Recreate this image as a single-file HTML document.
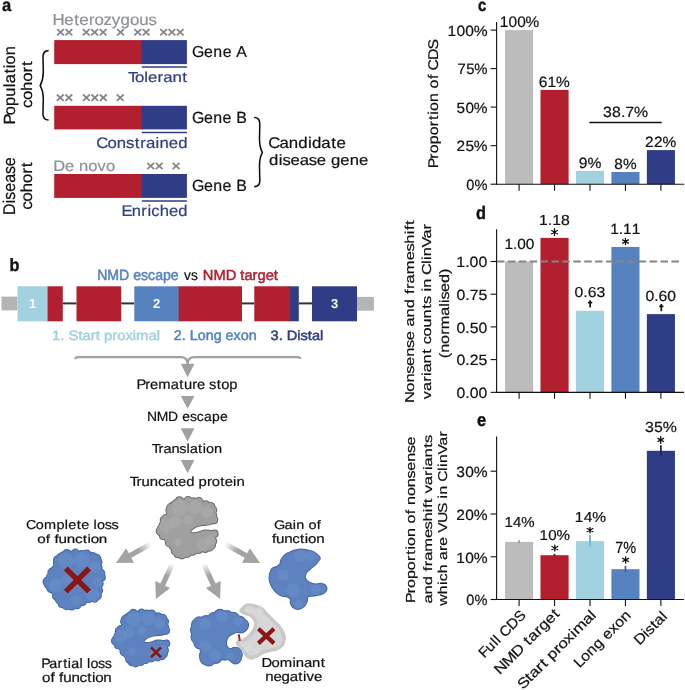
<!DOCTYPE html>
<html><head><meta charset="utf-8"><style>
html,body{margin:0;padding:0;background:#fff;}
svg{display:block;will-change:transform;}
text{font-family:"Liberation Sans",sans-serif;text-rendering:geometricPrecision;}
</style></head><body>
<svg width="685" height="690" viewBox="0 0 685 690">
<rect width="685" height="690" fill="#fff"/>
<text transform="translate(2.10,10.80) scale(0.9355,1)" x="0.00" y="0" font-size="17.66" font-weight="bold" fill="#111"  stroke="#111" stroke-width="0.4">a</text>
<text transform="translate(53.00,24.70) scale(1.0635,1)" x="-0.41 10.57 19.89 24.80 33.82 38.97 47.44 55.33 63.56 72.36 81.16 89.76" y="0" font-size="15.84" font-weight="normal" fill="#8c9196"  stroke="#8c9196" stroke-width="0.2">Heterozygous</text>
<path d="M57.10,29.10L63.90,35.40M57.10,35.40L63.90,29.10" stroke="#858585" stroke-width="1.75" fill="none"/>
<path d="M65.50,29.10L72.30,35.40M65.50,35.40L72.30,29.10" stroke="#858585" stroke-width="1.75" fill="none"/>
<path d="M82.80,29.10L89.60,35.40M82.80,35.40L89.60,29.10" stroke="#858585" stroke-width="1.75" fill="none"/>
<path d="M91.20,29.10L98.00,35.40M91.20,35.40L98.00,29.10" stroke="#858585" stroke-width="1.75" fill="none"/>
<path d="M99.70,29.10L106.50,35.40M99.70,35.40L106.50,29.10" stroke="#858585" stroke-width="1.75" fill="none"/>
<path d="M117.20,29.10L124.00,35.40M117.20,35.40L124.00,29.10" stroke="#858585" stroke-width="1.75" fill="none"/>
<path d="M134.30,29.10L141.10,35.40M134.30,35.40L141.10,29.10" stroke="#858585" stroke-width="1.75" fill="none"/>
<path d="M142.70,29.10L149.50,35.40M142.70,35.40L149.50,29.10" stroke="#858585" stroke-width="1.75" fill="none"/>
<path d="M160.20,29.10L167.00,35.40M160.20,35.40L167.00,29.10" stroke="#858585" stroke-width="1.75" fill="none"/>
<path d="M168.50,29.10L175.30,35.40M168.50,35.40L175.30,29.10" stroke="#858585" stroke-width="1.75" fill="none"/>
<path d="M176.80,29.10L183.60,35.40M176.80,35.40L183.60,29.10" stroke="#858585" stroke-width="1.75" fill="none"/>
<path d="M56.90,94.50L63.70,100.80M56.90,100.80L63.70,94.50" stroke="#858585" stroke-width="1.75" fill="none"/>
<path d="M65.40,94.50L72.20,100.80M65.40,100.80L72.20,94.50" stroke="#858585" stroke-width="1.75" fill="none"/>
<path d="M83.00,94.50L89.80,100.80M83.00,100.80L89.80,94.50" stroke="#858585" stroke-width="1.75" fill="none"/>
<path d="M91.40,94.50L98.20,100.80M91.40,100.80L98.20,94.50" stroke="#858585" stroke-width="1.75" fill="none"/>
<path d="M99.90,94.50L106.70,100.80M99.90,100.80L106.70,94.50" stroke="#858585" stroke-width="1.75" fill="none"/>
<path d="M116.80,94.50L123.60,100.80M116.80,100.80L123.60,94.50" stroke="#858585" stroke-width="1.75" fill="none"/>
<path d="M147.30,162.90L154.10,169.20M147.30,169.20L154.10,162.90" stroke="#858585" stroke-width="1.75" fill="none"/>
<path d="M155.80,162.90L162.60,169.20M155.80,169.20L162.60,162.90" stroke="#858585" stroke-width="1.75" fill="none"/>
<path d="M172.70,162.90L179.50,169.20M172.70,169.20L179.50,162.90" stroke="#858585" stroke-width="1.75" fill="none"/>
<rect x="54.20" y="40.10" width="88.40" height="24.00" fill="#b21f2f"/>
<rect x="141.60" y="40.10" width="45.30" height="24.00" fill="#2f3d86"/>
<rect x="54.20" y="105.80" width="88.40" height="23.60" fill="#b21f2f"/>
<rect x="141.60" y="105.80" width="45.30" height="23.60" fill="#2f3d86"/>
<rect x="54.20" y="174.00" width="88.40" height="23.90" fill="#b21f2f"/>
<rect x="141.60" y="174.00" width="45.30" height="23.90" fill="#2f3d86"/>
<line x1="141.80" y1="67.00" x2="186.90" y2="67.00" stroke="#2f3d86" stroke-width="1.5" />
<line x1="141.80" y1="132.40" x2="186.90" y2="132.40" stroke="#2f3d86" stroke-width="1.5" />
<line x1="141.80" y1="201.00" x2="186.90" y2="201.00" stroke="#2f3d86" stroke-width="1.5" />
<text transform="translate(128.50,81.90) scale(1.1606,1)" x="-0.50 5.52 13.61 16.87 25.03 29.92 37.86 46.41" y="0" font-size="14.48" font-weight="normal" fill="#2f3d86"  stroke="#2f3d86" stroke-width="0.2">Tolerant</text>
<text transform="translate(97.20,147.70) scale(1.1052,1)" x="-0.75 9.38 17.81 26.04 33.91 38.93 44.16 52.73 56.36 64.81 73.28" y="0" font-size="15.17" font-weight="normal" fill="#2f3d86"  stroke="#2f3d86" stroke-width="0.2">Constrained</text>
<text transform="translate(122.20,216.10) scale(1.0733,1)" x="-0.76 8.88 17.86 23.50 27.10 34.88 43.55 52.23" y="0" font-size="15.45" font-weight="normal" fill="#2f3d86"  stroke="#2f3d86" stroke-width="0.2">Enriched</text>
<text transform="translate(53.50,171.00) scale(1.0836,1)" x="-0.23 10.53 11.03 23.46 32.00 40.68 48.51" y="0" font-size="15.26" font-weight="normal" fill="#8c9196"  stroke="#8c9196" stroke-width="0.2">De novo</text>
<text transform="translate(192.30,57.40) scale(1.0011,1)" x="-0.41 11.70 21.01 30.31 30.81 43.84" y="0" font-size="15.90" font-weight="normal" fill="#111"  stroke="#111" stroke-width="0.2">Gene A</text>
<text transform="translate(192.30,122.90) scale(0.9834,1)" x="-0.42 11.91 21.37 30.84 31.34 44.62" y="0" font-size="16.19" font-weight="normal" fill="#111"  stroke="#111" stroke-width="0.2">Gene B</text>
<text transform="translate(192.30,191.30) scale(0.9834,1)" x="-0.42 11.91 21.37 30.84 31.34 44.62" y="0" font-size="16.19" font-weight="normal" fill="#111"  stroke="#111" stroke-width="0.2">Gene B</text>
<text transform="translate(269.00,148.20) scale(1.0904,1)" x="-0.77 9.54 18.14 26.87 35.74 39.45 48.03 57.11 61.90" y="0" font-size="15.45" font-weight="normal" fill="#111"  stroke="#111" stroke-width="0.2">Candidate</text>
<text transform="translate(269.00,164.80) scale(1.1189,1)" x="0.12 8.73 12.01 19.22 27.45 35.48 42.68 43.18 55.33 63.72 72.10 80.47" y="0" font-size="14.90" font-weight="normal" fill="#111"  stroke="#111" stroke-width="0.2">disease gene</text>
<text transform="translate(15.00,123.50) rotate(-90) scale(1.0246,1)" x="-1.04 8.10 17.09 26.23 35.50 39.21 48.70 53.99 57.70 66.68" y="0" font-size="16.14" font-weight="normal" fill="#111"  stroke="#111" stroke-width="0.2">Population</text>
<text transform="translate(32.00,107.80) rotate(-90) scale(1.1030,1)" x="-0.18 7.08 15.33 23.58 32.07 37.80" y="0" font-size="15.31" font-weight="normal" fill="#111"  stroke="#111" stroke-width="0.2">cohort</text>
<text transform="translate(15.40,214.90) rotate(-90) scale(0.9413,1)" x="-0.12 12.28 16.15 24.53 34.09 43.41 51.79" y="0" font-size="16.97" font-weight="normal" fill="#111"  stroke="#111" stroke-width="0.2">Disease</text>
<text transform="translate(32.30,209.60) rotate(-90) scale(1.0734,1)" x="-0.19 7.40 16.02 24.64 33.51 39.50" y="0" font-size="16.00" font-weight="normal" fill="#111"  stroke="#111" stroke-width="0.2">cohort</text>
<path d="M48.6,50.6 C45,50.6 43,52.5 43,57 L43.3,72 C43.3,79 41.5,83 40.2,85.6 C41.5,88 43.3,92 43.3,99 L43,114 C43,118.5 45,120 48.6,120" stroke="#111" stroke-width="1.55" fill="none"/>
<path d="M254.2,117.4 C257.8,117.4 259.8,119.3 259.8,123.8 L259.5,139 C259.5,146 261,150 262.4,152.4 C261,155 259.5,159 259.5,166 L259.8,181 C259.8,185.5 257.8,186.6 254.2,186.6" stroke="#111" stroke-width="1.55" fill="none"/>
<text transform="translate(9.50,270.90) scale(0.9106,1)" x="0.00" y="0" font-size="17.79" font-weight="bold" fill="#111"  stroke="#111" stroke-width="0.4">b</text>
<rect x="1.50" y="296.60" width="16.00" height="13.80" fill="#b4b4b4"/>
<rect x="357.00" y="296.90" width="16.90" height="13.80" fill="#b4b4b4"/>
<line x1="62.80" y1="303.40" x2="76.50" y2="303.40" stroke="#333" stroke-width="2" />
<line x1="121.20" y1="303.40" x2="134.30" y2="303.40" stroke="#333" stroke-width="2" />
<line x1="242.00" y1="303.40" x2="254.30" y2="303.40" stroke="#333" stroke-width="2" />
<line x1="298.80" y1="303.40" x2="312.00" y2="303.40" stroke="#333" stroke-width="2" />
<rect x="46.60" y="286.30" width="16.20" height="35.00" fill="#b21f2f"/>
<rect x="17.50" y="286.30" width="30.10" height="35.00" fill="#a2d2e0"/>
<rect x="76.50" y="286.30" width="44.70" height="35.00" fill="#b21f2f"/>
<rect x="177.70" y="286.30" width="64.30" height="35.00" fill="#b21f2f"/>
<rect x="134.30" y="286.30" width="44.40" height="35.00" fill="#5682bf"/>
<rect x="289.20" y="286.30" width="9.60" height="35.00" fill="#2f3d86"/>
<rect x="254.30" y="286.30" width="35.90" height="35.00" fill="#b21f2f"/>
<rect x="312.00" y="286.30" width="45.00" height="35.00" fill="#2f3d86"/>
<g font-weight="bold" fill="#fff" text-anchor="middle" font-size="13">
<text x="32.5" y="307.9">1</text><text x="156.5" y="307.9">2</text><text x="334.5" y="307.9">3</text>
</g>
<text x="97.20" y="279.90" font-size="14.83" font-weight="normal" fill="#5682bf" textLength="81.50" lengthAdjust="spacingAndGlyphs"  stroke-width="0.5" stroke="#5682bf">NMD escape</text>
<text transform="translate(183.80,279.90) scale(0.9624,1)" x="0.23 7.40" y="0" font-size="14.34" font-weight="normal" fill="#111"  stroke="#111" stroke-width="0.2">vs</text>
<text x="202.80" y="279.90" font-size="14.53" font-weight="normal" fill="#b21f2f" textLength="75.10" lengthAdjust="spacingAndGlyphs"  stroke-width="0.5" stroke="#b21f2f">NMD target</text>
<text x="52.00" y="339.80" font-size="13.52" font-weight="normal" fill="#a2d2e0" textLength="108.00" lengthAdjust="spacingAndGlyphs"  stroke-width="0.5" stroke="#a2d2e0">1. Start proximal</text>
<text x="173.70" y="339.80" font-size="14.04" font-weight="normal" fill="#5682bf" textLength="83.10" lengthAdjust="spacingAndGlyphs"  stroke-width="0.5" stroke="#5682bf">2. Long exon</text>
<text x="270.50" y="339.80" font-size="13.52" font-weight="normal" fill="#2f3d86" textLength="52.80" lengthAdjust="spacingAndGlyphs"  stroke-width="0.5" stroke="#2f3d86">3. Distal</text>
<path d="M75.4,359.2 Q75.4,357.2 78,357.2 L180.5,357.2 Q187.6,357.2 187.6,364" stroke="#a0a0a0" stroke-width="2.2" fill="none"/>
<path d="M300.2,359 Q300.2,357.2 297.6,357.2 L194.7,357.2 Q187.6,357.2 187.6,364" stroke="#a0a0a0" stroke-width="2.2" fill="none"/>
<path d="M180.8,363.8 L194.4,363.8 L187.6,377.2 Z" fill="#a0a0a0"/>
<path d="M180.8,396 L194.4,396 L187.6,408.8 Z" fill="#a0a0a0"/>
<path d="M180.8,428.2 L194.4,428.2 L187.6,441.5 Z" fill="#a0a0a0"/>
<path d="M180.8,459.9 L194.4,459.9 L187.6,473.2 Z" fill="#a0a0a0"/>
<text transform="translate(137.40,389.40) scale(1.0574,1)" x="-0.94 7.43 11.91 19.77 31.47 39.61 43.99 51.98 56.47 56.97 67.78 74.95 79.19 86.87" y="0" font-size="13.95" font-weight="normal" fill="#111"  stroke="#111" stroke-width="0.2">Premature stop</text>
<text transform="translate(147.20,421.10) scale(1.0410,1)" x="-0.19 9.07 19.94 20.44 33.58 41.01 47.65 54.48 62.23 69.98" y="0" font-size="13.37" font-weight="normal" fill="#111"  stroke="#111" stroke-width="0.2">NMD escape</text>
<text transform="translate(152.30,453.40) scale(1.1200,1)" x="-0.43 5.54 9.95 17.09 24.06 30.44 33.36 40.92 45.12 48.05 55.18" y="0" font-size="12.97" font-weight="normal" fill="#111"  stroke="#111" stroke-width="0.2">Translation</text>
<text transform="translate(130.20,485.50) scale(1.1253,1)" x="-0.49 5.56 10.10 17.41 24.61 30.93 38.57 42.54 49.75 50.25 60.74 68.25 72.41 80.04 84.01 91.37 94.42" y="0" font-size="13.24" font-weight="normal" fill="#111"  stroke="#111" stroke-width="0.2">Truncated protein</text>
<text transform="translate(26.70,528.60) scale(1.1284,1)" x="-0.61 7.99 15.34 26.38 33.77 36.76 44.34 48.36 48.86 59.30 62.28 69.15 75.15" y="0" font-size="12.83" font-weight="normal" fill="#111"  stroke="#111" stroke-width="0.2">Complete loss</text>
<text transform="translate(37.50,542.90) scale(1.2693,1)" x="-0.21 6.48 6.98 13.34 16.62 23.11 29.50 35.65 39.41 41.96 48.33" y="0" font-size="12.00" font-weight="normal" fill="#111"  stroke="#111" stroke-width="0.2">of function</text>
<text transform="translate(274.50,528.50) scale(1.1634,1)" x="-0.51 8.60 15.64 18.65 19.15 29.14 36.33" y="0" font-size="12.41" font-weight="normal" fill="#111"  stroke="#111" stroke-width="0.2">Gain of</text>
<text transform="translate(271.60,543.30) scale(1.1830,1)" x="0.24 3.76 10.70 17.53 24.11 28.14 30.87 37.68" y="0" font-size="12.83" font-weight="normal" fill="#111"  stroke="#111" stroke-width="0.2">function</text>
<text transform="translate(42.20,667.60) scale(1.0492,1)" x="-0.84 6.83 14.67 19.98 24.48 27.67 35.44 35.94 42.77 45.96 53.31 59.72" y="0" font-size="13.66" font-weight="normal" fill="#111"  stroke="#111" stroke-width="0.2">Partial loss</text>
<text transform="translate(42.20,681.60) scale(1.1219,1)" x="-0.23 7.30 7.80 15.02 18.73 26.03 33.23 40.16 44.40 47.27 54.45" y="0" font-size="13.52" font-weight="normal" fill="#111"  stroke="#111" stroke-width="0.2">of function</text>
<text transform="translate(261.80,667.10) scale(1.1445,1)" x="-0.33 8.56 15.73 26.78 29.77 36.81 43.86 51.46" y="0" font-size="12.97" font-weight="normal" fill="#111"  stroke="#111" stroke-width="0.2">Dominant</text>
<text transform="translate(265.40,681.20) scale(1.1114,1)" x="-0.05 7.24 14.55 21.83 29.58 33.88 37.08 43.75" y="0" font-size="13.52" font-weight="normal" fill="#111"  stroke="#111" stroke-width="0.2">negative</text>
<defs>
<linearGradient id="ag0" gradientUnits="userSpaceOnUse" x1="151.0" y1="544.0" x2="116.0" y2="563.1"><stop offset="0" stop-color="#a3a3a3" stop-opacity="0"/><stop offset="0.35" stop-color="#a3a3a3" stop-opacity="1"/><stop offset="1" stop-color="#a3a3a3"/></linearGradient>
<linearGradient id="ag1" gradientUnits="userSpaceOnUse" x1="172.6" y1="563.5" x2="155.9" y2="599.0"><stop offset="0" stop-color="#a3a3a3" stop-opacity="0"/><stop offset="0.35" stop-color="#a3a3a3" stop-opacity="1"/><stop offset="1" stop-color="#a3a3a3"/></linearGradient>
<linearGradient id="ag2" gradientUnits="userSpaceOnUse" x1="203.4" y1="563.5" x2="220.1" y2="599.0"><stop offset="0" stop-color="#a3a3a3" stop-opacity="0"/><stop offset="0.35" stop-color="#a3a3a3" stop-opacity="1"/><stop offset="1" stop-color="#a3a3a3"/></linearGradient>
<linearGradient id="ag3" gradientUnits="userSpaceOnUse" x1="225.0" y1="544.0" x2="260.0" y2="563.1"><stop offset="0" stop-color="#a3a3a3" stop-opacity="0"/><stop offset="0.35" stop-color="#a3a3a3" stop-opacity="1"/><stop offset="1" stop-color="#a3a3a3"/></linearGradient>
<clipPath id="cg"><path d="M174.60,500.40 C175.78,499.53 177.63,497.58 179.00,497.40 C180.37,497.22 181.33,499.35 182.80,499.30 C184.27,499.25 185.97,497.28 187.80,497.10 C189.63,496.92 191.80,498.02 193.80,498.20 C195.80,498.38 197.62,497.65 199.80,498.20 C201.98,498.75 204.70,500.58 206.90,501.50 C209.10,502.42 211.45,502.42 213.00,503.70 C214.55,504.98 215.67,507.28 216.20,509.20 C216.73,511.12 216.02,513.47 216.20,515.20 C216.38,516.93 217.38,518.33 217.30,519.60 C217.22,520.87 216.70,522.08 215.70,522.80 C214.70,523.52 213.48,523.53 211.30,523.90 C209.12,524.27 205.15,524.53 202.60,525.00 C200.05,525.47 197.92,525.87 196.00,526.70 C194.08,527.53 192.02,529.00 191.10,530.00 C190.18,531.00 190.05,532.17 190.50,532.70 C190.95,533.23 192.33,533.28 193.80,533.20 C195.27,533.12 197.48,532.65 199.30,532.20 C201.12,531.75 202.70,530.68 204.70,530.50 C206.70,530.32 209.28,530.92 211.30,531.10 C213.32,531.28 216.07,530.78 216.80,531.60 C217.53,532.42 215.80,534.35 215.70,536.00 C215.60,537.65 216.38,539.68 216.20,541.50 C216.02,543.32 215.42,545.45 214.60,546.90 C213.78,548.35 212.77,549.37 211.30,550.20 C209.83,551.03 207.80,551.43 205.80,551.90 C203.80,552.37 201.30,552.55 199.30,553.00 C197.30,553.45 195.63,553.97 193.80,554.60 C191.97,555.23 190.30,556.17 188.30,556.80 C186.30,557.43 183.80,558.40 181.80,558.40 C179.80,558.40 177.87,557.70 176.30,556.80 C174.73,555.90 173.40,554.47 172.40,553.00 C171.40,551.53 171.30,549.38 170.30,548.00 C169.30,546.62 167.23,545.97 166.40,544.70 C165.57,543.43 166.20,541.48 165.30,540.40 C164.40,539.32 162.18,539.30 161.00,538.20 C159.82,537.10 158.93,534.98 158.20,533.80 C157.47,532.62 156.60,532.20 156.60,531.10 C156.60,530.00 157.65,528.40 158.20,527.20 C158.75,526.00 159.43,525.27 159.90,523.90 C160.37,522.53 160.37,520.37 161.00,519.00 C161.63,517.63 162.70,516.43 163.70,515.70 C164.70,514.97 166.55,515.60 167.00,514.60 C167.45,513.60 166.22,511.25 166.40,509.70 C166.58,508.15 167.18,506.48 168.10,505.30 C169.02,504.12 170.82,503.42 171.90,502.60 C172.98,501.78 173.42,501.27 174.60,500.40Z"/></clipPath>
<clipPath id="cc"><path d="M61.50,552.70 C62.87,551.87 64.95,550.08 66.50,549.90 C68.05,549.72 69.35,551.65 70.80,551.60 C72.25,551.55 73.37,549.70 75.20,549.60 C77.03,549.50 79.78,550.85 81.80,551.00 C83.82,551.15 85.30,550.13 87.30,550.50 C89.30,550.87 91.80,552.28 93.80,553.20 C95.80,554.12 98.02,554.63 99.30,556.00 C100.58,557.37 101.13,559.58 101.50,561.40 C101.87,563.22 101.05,565.07 101.50,566.90 C101.95,568.73 103.65,570.58 104.20,572.40 C104.75,574.22 105.07,575.80 104.80,577.80 C104.53,579.80 103.05,582.20 102.60,584.40 C102.15,586.60 102.47,588.80 102.10,591.00 C101.73,593.20 101.42,595.87 100.40,597.60 C99.38,599.33 97.82,600.68 96.00,601.40 C94.18,602.12 91.50,601.35 89.50,601.90 C87.50,602.45 85.83,603.68 84.00,604.70 C82.17,605.72 80.52,607.18 78.50,608.00 C76.48,608.82 74.08,609.42 71.90,609.60 C69.72,609.78 67.40,609.65 65.40,609.10 C63.40,608.55 61.37,607.50 59.90,606.30 C58.43,605.10 57.70,603.35 56.60,601.90 C55.50,600.45 54.03,599.05 53.30,597.60 C52.57,596.15 53.02,594.30 52.20,593.20 C51.38,592.10 49.48,592.10 48.40,591.00 C47.32,589.90 46.52,588.07 45.70,586.60 C44.88,585.13 43.60,583.48 43.50,582.20 C43.40,580.92 44.47,579.98 45.10,578.90 C45.73,577.82 46.65,577.15 47.30,575.70 C47.95,574.25 48.08,571.58 49.00,570.20 C49.92,568.82 51.98,568.68 52.80,567.40 C53.62,566.12 53.63,564.05 53.90,562.50 C54.17,560.95 53.67,559.37 54.40,558.10 C55.13,556.83 57.12,555.80 58.30,554.90 C59.48,554.00 60.13,553.53 61.50,552.70Z"/></clipPath>
<clipPath id="cn"><path d="M294.20,550.80 C296.30,550.23 299.15,549.32 301.90,549.40 C304.65,549.48 308.27,550.50 310.70,551.30 C313.13,552.10 314.97,553.07 316.50,554.20 C318.03,555.33 319.65,556.97 319.90,558.10 C320.15,559.23 318.73,559.95 318.00,561.00 C317.27,562.05 316.72,563.18 315.50,564.40 C314.28,565.62 312.15,567.08 310.70,568.30 C309.25,569.52 307.78,570.40 306.80,571.70 C305.82,573.00 304.97,574.80 304.80,576.10 C304.63,577.40 305.15,578.45 305.80,579.50 C306.45,580.55 307.08,581.58 308.70,582.40 C310.32,583.22 313.23,584.15 315.50,584.40 C317.77,584.65 320.52,583.50 322.30,583.90 C324.08,584.30 325.63,585.58 326.20,586.80 C326.77,588.02 326.50,589.98 325.70,591.20 C324.90,592.42 323.42,593.38 321.40,594.10 C319.38,594.82 315.87,595.10 313.60,595.50 C311.33,595.90 308.93,595.52 307.80,596.50 C306.67,597.48 307.45,599.78 306.80,601.40 C306.15,603.02 305.37,604.92 303.90,606.20 C302.43,607.48 299.78,608.93 298.00,609.10 C296.22,609.27 294.40,608.17 293.20,607.20 C292.00,606.23 291.20,604.60 290.80,603.30 C290.40,602.00 291.37,600.53 290.80,599.40 C290.23,598.27 288.95,597.15 287.40,596.50 C285.85,595.85 283.28,596.15 281.50,595.50 C279.72,594.85 278.15,593.88 276.70,592.60 C275.25,591.32 273.93,589.73 272.80,587.80 C271.67,585.87 270.38,583.27 269.90,581.00 C269.42,578.73 269.50,576.23 269.90,574.20 C270.30,572.17 271.17,570.02 272.30,568.80 C273.43,567.58 275.40,567.63 276.70,566.90 C278.00,566.17 279.30,565.62 280.10,564.40 C280.90,563.18 280.62,561.22 281.50,559.60 C282.38,557.98 284.10,555.83 285.40,554.70 C286.70,553.57 287.83,553.45 289.30,552.80 C290.77,552.15 292.10,551.37 294.20,550.80Z"/></clipPath>
<clipPath id="cd"><path d="M192.50,622.30 C193.48,620.32 194.92,618.88 196.90,617.90 C198.88,616.92 201.92,617.15 204.40,616.40 C206.88,615.65 209.32,614.52 211.80,613.40 C214.28,612.28 216.57,610.07 219.30,609.70 C222.03,609.33 225.48,610.58 228.20,611.20 C230.92,611.82 233.12,612.28 235.60,613.40 C238.08,614.52 241.23,616.17 243.10,617.90 C244.97,619.63 246.18,621.95 246.80,623.80 C247.42,625.65 247.67,627.88 246.80,629.00 C245.93,630.12 243.70,629.87 241.60,630.50 C239.50,631.13 236.43,631.80 234.20,632.80 C231.97,633.80 229.57,635.02 228.20,636.50 C226.83,637.98 226.12,639.85 226.00,641.70 C225.88,643.55 226.13,645.98 227.50,647.60 C228.87,649.22 232.10,650.15 234.20,651.40 C236.30,652.65 239.23,653.73 240.10,655.10 C240.97,656.47 240.63,658.62 239.40,659.60 C238.17,660.58 235.07,661.00 232.70,661.00 C230.33,661.00 227.68,659.35 225.20,659.60 C222.72,659.85 220.53,661.52 217.80,662.50 C215.07,663.48 211.42,665.50 208.80,665.50 C206.18,665.50 203.58,663.98 202.10,662.50 C200.62,661.02 200.13,658.58 199.90,656.60 C199.67,654.62 201.45,652.33 200.70,650.60 C199.95,648.87 196.90,648.18 195.40,646.20 C193.90,644.22 192.43,641.43 191.70,638.70 C190.97,635.97 190.87,632.53 191.00,629.80 C191.13,627.07 191.52,624.28 192.50,622.30Z"/></clipPath>
<clipPath id="ce"><path d="M240.60,609.40 C241.62,608.07 244.68,604.90 247.20,604.20 C249.72,603.50 253.18,604.57 255.70,605.20 C258.22,605.83 260.57,606.83 262.30,608.00 C264.03,609.17 264.68,610.70 266.10,612.20 C267.52,613.70 269.23,615.42 270.80,617.00 C272.37,618.58 273.93,620.13 275.50,621.70 C277.07,623.27 278.78,624.52 280.20,626.40 C281.62,628.28 283.22,630.82 284.00,633.00 C284.78,635.18 285.13,637.32 284.90,639.50 C284.67,641.68 284.02,644.37 282.60,646.10 C281.18,647.83 278.53,649.03 276.40,649.90 C274.27,650.77 272.00,650.75 269.80,651.30 C267.60,651.85 265.23,652.33 263.20,653.20 C261.17,654.07 259.47,655.55 257.60,656.50 C255.73,657.45 253.73,658.75 252.00,658.90 C250.27,659.05 248.55,658.43 247.20,657.40 C245.85,656.37 245.15,654.42 243.90,652.70 C242.65,650.98 240.87,648.50 239.70,647.10 C238.53,645.70 237.28,645.25 236.90,644.30 C236.52,643.35 236.78,642.03 237.40,641.40 C238.02,640.77 239.43,640.97 240.60,640.50 C241.77,640.03 243.13,639.38 244.40,638.60 C245.67,637.82 246.78,637.22 248.20,635.80 C249.62,634.38 251.80,631.98 252.90,630.10 C254.00,628.22 254.65,626.22 254.80,624.50 C254.95,622.78 254.58,621.22 253.80,619.80 C253.02,618.38 251.67,616.95 250.10,616.00 C248.53,615.05 245.90,614.73 244.40,614.10 C242.90,613.47 241.73,612.98 241.10,612.20 C240.47,611.42 239.58,610.73 240.60,609.40Z"/></clipPath>
</defs>
<path d="M149.75,541.72 L128.80,553.15 L126.12,548.24 L116.00,563.10 L133.97,562.63 L131.29,557.72 L152.25,546.28Z" fill="url(#ag0)"/>
<path d="M170.25,562.39 L160.36,583.42 L155.29,581.03 L155.90,599.00 L170.13,588.01 L165.06,585.63 L174.95,564.61Z" fill="url(#ag1)"/>
<path d="M201.05,564.61 L210.94,585.63 L205.87,588.01 L220.10,599.00 L220.71,581.03 L215.64,583.42 L205.75,562.39Z" fill="url(#ag2)"/>
<path d="M223.75,546.28 L244.71,557.72 L242.03,562.63 L260.00,563.10 L249.88,548.24 L247.20,553.15 L226.25,541.72Z" fill="url(#ag3)"/>
<clipPath id="pg"><path d="M176.85,503.47 C177.79,502.70 178.39,500.38 179.40,500.41 C180.42,500.45 181.49,503.65 182.95,503.67 C184.40,503.68 186.39,500.75 188.14,500.50 C189.89,500.25 191.65,501.94 193.44,502.17 C195.22,502.40 196.82,501.53 198.87,501.88 C200.92,502.24 203.84,503.44 205.73,504.31 C207.62,505.17 209.02,506.10 210.21,507.07 C211.41,508.03 212.57,508.69 212.91,510.12 C213.24,511.54 212.13,514.08 212.23,515.62 C212.33,517.16 213.23,518.57 213.51,519.35 C213.79,520.14 214.30,519.57 213.93,520.33 C213.56,521.09 213.19,523.12 211.30,523.90 C209.41,524.68 205.15,524.53 202.60,525.00 C200.05,525.47 197.92,525.87 196.00,526.70 C194.08,527.53 192.02,529.00 191.10,530.00 C190.18,531.00 190.05,532.17 190.50,532.70 C190.95,533.23 192.33,533.28 193.80,533.20 C195.27,533.12 197.48,532.65 199.30,532.20 C201.12,531.75 202.70,530.68 204.70,530.50 C206.70,530.32 209.66,530.58 211.30,531.10 C212.94,531.62 214.53,532.86 214.54,533.63 C214.54,534.40 211.63,534.48 211.34,535.74 C211.05,536.99 212.83,539.62 212.80,541.16 C212.76,542.69 211.69,543.99 211.12,544.94 C210.56,545.90 210.43,546.23 209.42,546.90 C208.42,547.56 206.96,548.63 205.11,548.94 C203.26,549.25 200.41,548.33 198.34,548.74 C196.27,549.14 194.56,550.66 192.68,551.37 C190.81,552.08 188.91,552.46 187.10,553.00 C185.28,553.53 183.35,554.41 181.80,554.60 C180.25,554.79 178.78,554.84 177.81,554.16 C176.85,553.49 176.80,551.90 176.01,550.54 C175.22,549.18 174.12,547.33 173.07,546.00 C172.03,544.66 170.54,543.84 169.73,542.51 C168.93,541.17 169.33,539.06 168.22,537.97 C167.11,536.88 164.12,537.05 163.07,535.97 C162.02,534.89 162.42,532.31 161.91,531.50 C161.41,530.69 160.03,531.54 160.02,531.10 C160.01,530.66 161.25,529.86 161.83,528.86 C162.41,527.87 163.17,526.56 163.50,525.13 C163.82,523.70 163.29,521.26 163.76,520.28 C164.22,519.29 165.22,519.94 166.28,519.22 C167.34,518.51 169.44,517.51 170.12,516.00 C170.80,514.49 170.20,511.56 170.36,510.17 C170.53,508.77 170.54,508.48 171.10,507.63 C171.67,506.77 172.77,505.72 173.73,505.03 C174.69,504.33 175.90,504.23 176.85,503.47Z"/><circle cx="176.85" cy="503.47" r="3.80"/><circle cx="179.40" cy="500.41" r="3.04"/><circle cx="182.95" cy="503.67" r="4.37"/><circle cx="188.14" cy="500.50" r="3.42"/><circle cx="193.44" cy="502.17" r="3.99"/><circle cx="198.87" cy="501.88" r="3.80"/><circle cx="205.73" cy="504.31" r="3.04"/><circle cx="210.21" cy="507.07" r="4.37"/><circle cx="212.91" cy="510.12" r="3.42"/><circle cx="212.23" cy="515.62" r="3.99"/><circle cx="213.51" cy="519.35" r="3.80"/><circle cx="213.93" cy="520.33" r="3.04"/><circle cx="214.54" cy="533.63" r="3.04"/><circle cx="211.34" cy="535.74" r="4.37"/><circle cx="212.80" cy="541.16" r="3.42"/><circle cx="211.12" cy="544.94" r="3.99"/><circle cx="209.42" cy="546.90" r="3.80"/><circle cx="205.11" cy="548.94" r="3.04"/><circle cx="198.34" cy="548.74" r="4.37"/><circle cx="192.68" cy="551.37" r="3.42"/><circle cx="187.10" cy="553.00" r="3.99"/><circle cx="181.80" cy="554.60" r="3.80"/><circle cx="177.81" cy="554.16" r="3.04"/><circle cx="176.01" cy="550.54" r="4.37"/><circle cx="173.07" cy="546.00" r="3.42"/><circle cx="169.73" cy="542.51" r="3.99"/><circle cx="168.22" cy="537.97" r="3.80"/><circle cx="163.07" cy="535.97" r="3.04"/><circle cx="161.91" cy="531.50" r="4.37"/><circle cx="160.02" cy="531.10" r="3.42"/><circle cx="161.83" cy="528.86" r="3.99"/><circle cx="163.50" cy="525.13" r="3.80"/><circle cx="163.76" cy="520.28" r="3.04"/><circle cx="166.28" cy="519.22" r="4.37"/><circle cx="170.12" cy="516.00" r="3.42"/><circle cx="170.36" cy="510.17" r="3.99"/><circle cx="171.10" cy="507.63" r="3.80"/><circle cx="173.73" cy="505.03" r="3.04"/></clipPath>
<g fill="#6a6a6a" stroke="#6a6a6a" stroke-width="2.00"><path d="M176.85,503.47 C177.79,502.70 178.39,500.38 179.40,500.41 C180.42,500.45 181.49,503.65 182.95,503.67 C184.40,503.68 186.39,500.75 188.14,500.50 C189.89,500.25 191.65,501.94 193.44,502.17 C195.22,502.40 196.82,501.53 198.87,501.88 C200.92,502.24 203.84,503.44 205.73,504.31 C207.62,505.17 209.02,506.10 210.21,507.07 C211.41,508.03 212.57,508.69 212.91,510.12 C213.24,511.54 212.13,514.08 212.23,515.62 C212.33,517.16 213.23,518.57 213.51,519.35 C213.79,520.14 214.30,519.57 213.93,520.33 C213.56,521.09 213.19,523.12 211.30,523.90 C209.41,524.68 205.15,524.53 202.60,525.00 C200.05,525.47 197.92,525.87 196.00,526.70 C194.08,527.53 192.02,529.00 191.10,530.00 C190.18,531.00 190.05,532.17 190.50,532.70 C190.95,533.23 192.33,533.28 193.80,533.20 C195.27,533.12 197.48,532.65 199.30,532.20 C201.12,531.75 202.70,530.68 204.70,530.50 C206.70,530.32 209.66,530.58 211.30,531.10 C212.94,531.62 214.53,532.86 214.54,533.63 C214.54,534.40 211.63,534.48 211.34,535.74 C211.05,536.99 212.83,539.62 212.80,541.16 C212.76,542.69 211.69,543.99 211.12,544.94 C210.56,545.90 210.43,546.23 209.42,546.90 C208.42,547.56 206.96,548.63 205.11,548.94 C203.26,549.25 200.41,548.33 198.34,548.74 C196.27,549.14 194.56,550.66 192.68,551.37 C190.81,552.08 188.91,552.46 187.10,553.00 C185.28,553.53 183.35,554.41 181.80,554.60 C180.25,554.79 178.78,554.84 177.81,554.16 C176.85,553.49 176.80,551.90 176.01,550.54 C175.22,549.18 174.12,547.33 173.07,546.00 C172.03,544.66 170.54,543.84 169.73,542.51 C168.93,541.17 169.33,539.06 168.22,537.97 C167.11,536.88 164.12,537.05 163.07,535.97 C162.02,534.89 162.42,532.31 161.91,531.50 C161.41,530.69 160.03,531.54 160.02,531.10 C160.01,530.66 161.25,529.86 161.83,528.86 C162.41,527.87 163.17,526.56 163.50,525.13 C163.82,523.70 163.29,521.26 163.76,520.28 C164.22,519.29 165.22,519.94 166.28,519.22 C167.34,518.51 169.44,517.51 170.12,516.00 C170.80,514.49 170.20,511.56 170.36,510.17 C170.53,508.77 170.54,508.48 171.10,507.63 C171.67,506.77 172.77,505.72 173.73,505.03 C174.69,504.33 175.90,504.23 176.85,503.47Z"/><circle cx="176.85" cy="503.47" r="3.80"/><circle cx="179.40" cy="500.41" r="3.04"/><circle cx="182.95" cy="503.67" r="4.37"/><circle cx="188.14" cy="500.50" r="3.42"/><circle cx="193.44" cy="502.17" r="3.99"/><circle cx="198.87" cy="501.88" r="3.80"/><circle cx="205.73" cy="504.31" r="3.04"/><circle cx="210.21" cy="507.07" r="4.37"/><circle cx="212.91" cy="510.12" r="3.42"/><circle cx="212.23" cy="515.62" r="3.99"/><circle cx="213.51" cy="519.35" r="3.80"/><circle cx="213.93" cy="520.33" r="3.04"/><circle cx="214.54" cy="533.63" r="3.04"/><circle cx="211.34" cy="535.74" r="4.37"/><circle cx="212.80" cy="541.16" r="3.42"/><circle cx="211.12" cy="544.94" r="3.99"/><circle cx="209.42" cy="546.90" r="3.80"/><circle cx="205.11" cy="548.94" r="3.04"/><circle cx="198.34" cy="548.74" r="4.37"/><circle cx="192.68" cy="551.37" r="3.42"/><circle cx="187.10" cy="553.00" r="3.99"/><circle cx="181.80" cy="554.60" r="3.80"/><circle cx="177.81" cy="554.16" r="3.04"/><circle cx="176.01" cy="550.54" r="4.37"/><circle cx="173.07" cy="546.00" r="3.42"/><circle cx="169.73" cy="542.51" r="3.99"/><circle cx="168.22" cy="537.97" r="3.80"/><circle cx="163.07" cy="535.97" r="3.04"/><circle cx="161.91" cy="531.50" r="4.37"/><circle cx="160.02" cy="531.10" r="3.42"/><circle cx="161.83" cy="528.86" r="3.99"/><circle cx="163.50" cy="525.13" r="3.80"/><circle cx="163.76" cy="520.28" r="3.04"/><circle cx="166.28" cy="519.22" r="4.37"/><circle cx="170.12" cy="516.00" r="3.42"/><circle cx="170.36" cy="510.17" r="3.99"/><circle cx="171.10" cy="507.63" r="3.80"/><circle cx="173.73" cy="505.03" r="3.04"/></g>
<g fill="#a0a0a0"><path d="M176.85,503.47 C177.79,502.70 178.39,500.38 179.40,500.41 C180.42,500.45 181.49,503.65 182.95,503.67 C184.40,503.68 186.39,500.75 188.14,500.50 C189.89,500.25 191.65,501.94 193.44,502.17 C195.22,502.40 196.82,501.53 198.87,501.88 C200.92,502.24 203.84,503.44 205.73,504.31 C207.62,505.17 209.02,506.10 210.21,507.07 C211.41,508.03 212.57,508.69 212.91,510.12 C213.24,511.54 212.13,514.08 212.23,515.62 C212.33,517.16 213.23,518.57 213.51,519.35 C213.79,520.14 214.30,519.57 213.93,520.33 C213.56,521.09 213.19,523.12 211.30,523.90 C209.41,524.68 205.15,524.53 202.60,525.00 C200.05,525.47 197.92,525.87 196.00,526.70 C194.08,527.53 192.02,529.00 191.10,530.00 C190.18,531.00 190.05,532.17 190.50,532.70 C190.95,533.23 192.33,533.28 193.80,533.20 C195.27,533.12 197.48,532.65 199.30,532.20 C201.12,531.75 202.70,530.68 204.70,530.50 C206.70,530.32 209.66,530.58 211.30,531.10 C212.94,531.62 214.53,532.86 214.54,533.63 C214.54,534.40 211.63,534.48 211.34,535.74 C211.05,536.99 212.83,539.62 212.80,541.16 C212.76,542.69 211.69,543.99 211.12,544.94 C210.56,545.90 210.43,546.23 209.42,546.90 C208.42,547.56 206.96,548.63 205.11,548.94 C203.26,549.25 200.41,548.33 198.34,548.74 C196.27,549.14 194.56,550.66 192.68,551.37 C190.81,552.08 188.91,552.46 187.10,553.00 C185.28,553.53 183.35,554.41 181.80,554.60 C180.25,554.79 178.78,554.84 177.81,554.16 C176.85,553.49 176.80,551.90 176.01,550.54 C175.22,549.18 174.12,547.33 173.07,546.00 C172.03,544.66 170.54,543.84 169.73,542.51 C168.93,541.17 169.33,539.06 168.22,537.97 C167.11,536.88 164.12,537.05 163.07,535.97 C162.02,534.89 162.42,532.31 161.91,531.50 C161.41,530.69 160.03,531.54 160.02,531.10 C160.01,530.66 161.25,529.86 161.83,528.86 C162.41,527.87 163.17,526.56 163.50,525.13 C163.82,523.70 163.29,521.26 163.76,520.28 C164.22,519.29 165.22,519.94 166.28,519.22 C167.34,518.51 169.44,517.51 170.12,516.00 C170.80,514.49 170.20,511.56 170.36,510.17 C170.53,508.77 170.54,508.48 171.10,507.63 C171.67,506.77 172.77,505.72 173.73,505.03 C174.69,504.33 175.90,504.23 176.85,503.47Z"/><circle cx="176.85" cy="503.47" r="3.80"/><circle cx="179.40" cy="500.41" r="3.04"/><circle cx="182.95" cy="503.67" r="4.37"/><circle cx="188.14" cy="500.50" r="3.42"/><circle cx="193.44" cy="502.17" r="3.99"/><circle cx="198.87" cy="501.88" r="3.80"/><circle cx="205.73" cy="504.31" r="3.04"/><circle cx="210.21" cy="507.07" r="4.37"/><circle cx="212.91" cy="510.12" r="3.42"/><circle cx="212.23" cy="515.62" r="3.99"/><circle cx="213.51" cy="519.35" r="3.80"/><circle cx="213.93" cy="520.33" r="3.04"/><circle cx="214.54" cy="533.63" r="3.04"/><circle cx="211.34" cy="535.74" r="4.37"/><circle cx="212.80" cy="541.16" r="3.42"/><circle cx="211.12" cy="544.94" r="3.99"/><circle cx="209.42" cy="546.90" r="3.80"/><circle cx="205.11" cy="548.94" r="3.04"/><circle cx="198.34" cy="548.74" r="4.37"/><circle cx="192.68" cy="551.37" r="3.42"/><circle cx="187.10" cy="553.00" r="3.99"/><circle cx="181.80" cy="554.60" r="3.80"/><circle cx="177.81" cy="554.16" r="3.04"/><circle cx="176.01" cy="550.54" r="4.37"/><circle cx="173.07" cy="546.00" r="3.42"/><circle cx="169.73" cy="542.51" r="3.99"/><circle cx="168.22" cy="537.97" r="3.80"/><circle cx="163.07" cy="535.97" r="3.04"/><circle cx="161.91" cy="531.50" r="4.37"/><circle cx="160.02" cy="531.10" r="3.42"/><circle cx="161.83" cy="528.86" r="3.99"/><circle cx="163.50" cy="525.13" r="3.80"/><circle cx="163.76" cy="520.28" r="3.04"/><circle cx="166.28" cy="519.22" r="4.37"/><circle cx="170.12" cy="516.00" r="3.42"/><circle cx="170.36" cy="510.17" r="3.99"/><circle cx="171.10" cy="507.63" r="3.80"/><circle cx="173.73" cy="505.03" r="3.04"/></g>
<g clip-path="url(#pg)">
<circle cx="180" cy="508" r="8" fill="#adadad" opacity="0.5"/>
<circle cx="195" cy="507" r="7" fill="#adadad" opacity="0.5"/>
<circle cx="207" cy="512" r="6" fill="#adadad" opacity="0.5"/>
<circle cx="166" cy="526" r="7" fill="#adadad" opacity="0.5"/>
<circle cx="175" cy="522" r="6" fill="#adadad" opacity="0.5"/>
<circle cx="188" cy="520" r="5" fill="#adadad" opacity="0.5"/>
<circle cx="203" cy="545" r="6" fill="#adadad" opacity="0.5"/>
<circle cx="210" cy="540" r="5" fill="#adadad" opacity="0.5"/>
<circle cx="178" cy="542" r="4" fill="#adadad" opacity="0.5"/>
</g>
<clipPath id="pc"><path d="M63.48,555.94 C64.50,555.08 65.61,552.92 66.86,552.92 C68.10,552.92 69.53,555.95 70.95,555.97 C72.37,555.98 73.63,553.18 75.39,553.01 C77.15,552.85 79.63,554.78 81.50,554.98 C83.38,555.18 84.78,554.07 86.61,554.24 C88.45,554.40 90.95,555.17 92.53,555.96 C94.12,556.76 95.18,557.97 96.11,558.99 C97.05,560.01 97.90,560.60 98.15,562.08 C98.40,563.55 97.22,565.95 97.63,567.85 C98.03,569.76 99.87,571.91 100.56,573.50 C101.26,575.09 102.16,575.73 101.79,577.40 C101.41,579.07 98.83,581.35 98.32,583.52 C97.81,585.70 98.95,588.43 98.73,590.44 C98.50,592.45 97.65,594.34 96.96,595.58 C96.27,596.82 95.98,597.30 94.61,597.87 C93.23,598.43 90.81,598.47 88.69,598.97 C86.57,599.47 83.79,599.90 81.88,600.88 C79.97,601.86 78.94,604.04 77.22,604.83 C75.50,605.62 73.37,605.52 71.57,605.62 C69.76,605.72 68.03,605.72 66.41,605.44 C64.78,605.16 62.88,604.98 61.83,603.95 C60.77,602.92 60.99,600.57 60.08,599.26 C59.17,597.94 57.13,597.46 56.35,596.06 C55.57,594.65 56.28,592.11 55.40,590.82 C54.53,589.53 52.28,589.28 51.11,588.33 C49.93,587.38 48.90,586.20 48.36,585.12 C47.81,584.04 47.91,582.61 47.86,581.86 C47.81,581.11 47.54,581.38 48.05,580.63 C48.57,579.87 50.26,578.72 50.94,577.33 C51.63,575.94 51.43,573.68 52.17,572.30 C52.90,570.92 54.36,570.54 55.36,569.03 C56.37,567.52 57.87,564.78 58.21,563.24 C58.54,561.70 56.94,560.67 57.36,559.81 C57.78,558.95 59.70,558.72 60.72,558.08 C61.74,557.43 62.45,556.80 63.48,555.94Z"/><circle cx="63.48" cy="555.94" r="3.80"/><circle cx="66.86" cy="552.92" r="3.04"/><circle cx="70.95" cy="555.97" r="4.37"/><circle cx="75.39" cy="553.01" r="3.42"/><circle cx="81.50" cy="554.98" r="3.99"/><circle cx="86.61" cy="554.24" r="3.80"/><circle cx="92.53" cy="555.96" r="3.04"/><circle cx="96.11" cy="558.99" r="4.37"/><circle cx="98.15" cy="562.08" r="3.42"/><circle cx="97.63" cy="567.85" r="3.99"/><circle cx="100.56" cy="573.50" r="3.80"/><circle cx="101.79" cy="577.40" r="3.04"/><circle cx="98.32" cy="583.52" r="4.37"/><circle cx="98.73" cy="590.44" r="3.42"/><circle cx="96.96" cy="595.58" r="3.99"/><circle cx="94.61" cy="597.87" r="3.80"/><circle cx="88.69" cy="598.97" r="3.04"/><circle cx="81.88" cy="600.88" r="4.37"/><circle cx="77.22" cy="604.83" r="3.42"/><circle cx="71.57" cy="605.62" r="3.99"/><circle cx="66.41" cy="605.44" r="3.80"/><circle cx="61.83" cy="603.95" r="3.04"/><circle cx="60.08" cy="599.26" r="4.37"/><circle cx="56.35" cy="596.06" r="3.42"/><circle cx="55.40" cy="590.82" r="3.99"/><circle cx="51.11" cy="588.33" r="3.80"/><circle cx="48.36" cy="585.12" r="3.04"/><circle cx="47.86" cy="581.86" r="4.37"/><circle cx="48.05" cy="580.63" r="3.42"/><circle cx="50.94" cy="577.33" r="3.99"/><circle cx="52.17" cy="572.30" r="3.80"/><circle cx="55.36" cy="569.03" r="3.04"/><circle cx="58.21" cy="563.24" r="4.37"/><circle cx="57.36" cy="559.81" r="3.42"/><circle cx="60.72" cy="558.08" r="3.99"/></clipPath>
<g fill="#4467a8" stroke="#4467a8" stroke-width="2.00"><path d="M63.48,555.94 C64.50,555.08 65.61,552.92 66.86,552.92 C68.10,552.92 69.53,555.95 70.95,555.97 C72.37,555.98 73.63,553.18 75.39,553.01 C77.15,552.85 79.63,554.78 81.50,554.98 C83.38,555.18 84.78,554.07 86.61,554.24 C88.45,554.40 90.95,555.17 92.53,555.96 C94.12,556.76 95.18,557.97 96.11,558.99 C97.05,560.01 97.90,560.60 98.15,562.08 C98.40,563.55 97.22,565.95 97.63,567.85 C98.03,569.76 99.87,571.91 100.56,573.50 C101.26,575.09 102.16,575.73 101.79,577.40 C101.41,579.07 98.83,581.35 98.32,583.52 C97.81,585.70 98.95,588.43 98.73,590.44 C98.50,592.45 97.65,594.34 96.96,595.58 C96.27,596.82 95.98,597.30 94.61,597.87 C93.23,598.43 90.81,598.47 88.69,598.97 C86.57,599.47 83.79,599.90 81.88,600.88 C79.97,601.86 78.94,604.04 77.22,604.83 C75.50,605.62 73.37,605.52 71.57,605.62 C69.76,605.72 68.03,605.72 66.41,605.44 C64.78,605.16 62.88,604.98 61.83,603.95 C60.77,602.92 60.99,600.57 60.08,599.26 C59.17,597.94 57.13,597.46 56.35,596.06 C55.57,594.65 56.28,592.11 55.40,590.82 C54.53,589.53 52.28,589.28 51.11,588.33 C49.93,587.38 48.90,586.20 48.36,585.12 C47.81,584.04 47.91,582.61 47.86,581.86 C47.81,581.11 47.54,581.38 48.05,580.63 C48.57,579.87 50.26,578.72 50.94,577.33 C51.63,575.94 51.43,573.68 52.17,572.30 C52.90,570.92 54.36,570.54 55.36,569.03 C56.37,567.52 57.87,564.78 58.21,563.24 C58.54,561.70 56.94,560.67 57.36,559.81 C57.78,558.95 59.70,558.72 60.72,558.08 C61.74,557.43 62.45,556.80 63.48,555.94Z"/><circle cx="63.48" cy="555.94" r="3.80"/><circle cx="66.86" cy="552.92" r="3.04"/><circle cx="70.95" cy="555.97" r="4.37"/><circle cx="75.39" cy="553.01" r="3.42"/><circle cx="81.50" cy="554.98" r="3.99"/><circle cx="86.61" cy="554.24" r="3.80"/><circle cx="92.53" cy="555.96" r="3.04"/><circle cx="96.11" cy="558.99" r="4.37"/><circle cx="98.15" cy="562.08" r="3.42"/><circle cx="97.63" cy="567.85" r="3.99"/><circle cx="100.56" cy="573.50" r="3.80"/><circle cx="101.79" cy="577.40" r="3.04"/><circle cx="98.32" cy="583.52" r="4.37"/><circle cx="98.73" cy="590.44" r="3.42"/><circle cx="96.96" cy="595.58" r="3.99"/><circle cx="94.61" cy="597.87" r="3.80"/><circle cx="88.69" cy="598.97" r="3.04"/><circle cx="81.88" cy="600.88" r="4.37"/><circle cx="77.22" cy="604.83" r="3.42"/><circle cx="71.57" cy="605.62" r="3.99"/><circle cx="66.41" cy="605.44" r="3.80"/><circle cx="61.83" cy="603.95" r="3.04"/><circle cx="60.08" cy="599.26" r="4.37"/><circle cx="56.35" cy="596.06" r="3.42"/><circle cx="55.40" cy="590.82" r="3.99"/><circle cx="51.11" cy="588.33" r="3.80"/><circle cx="48.36" cy="585.12" r="3.04"/><circle cx="47.86" cy="581.86" r="4.37"/><circle cx="48.05" cy="580.63" r="3.42"/><circle cx="50.94" cy="577.33" r="3.99"/><circle cx="52.17" cy="572.30" r="3.80"/><circle cx="55.36" cy="569.03" r="3.04"/><circle cx="58.21" cy="563.24" r="4.37"/><circle cx="57.36" cy="559.81" r="3.42"/><circle cx="60.72" cy="558.08" r="3.99"/></g>
<g fill="#5d82bf"><path d="M63.48,555.94 C64.50,555.08 65.61,552.92 66.86,552.92 C68.10,552.92 69.53,555.95 70.95,555.97 C72.37,555.98 73.63,553.18 75.39,553.01 C77.15,552.85 79.63,554.78 81.50,554.98 C83.38,555.18 84.78,554.07 86.61,554.24 C88.45,554.40 90.95,555.17 92.53,555.96 C94.12,556.76 95.18,557.97 96.11,558.99 C97.05,560.01 97.90,560.60 98.15,562.08 C98.40,563.55 97.22,565.95 97.63,567.85 C98.03,569.76 99.87,571.91 100.56,573.50 C101.26,575.09 102.16,575.73 101.79,577.40 C101.41,579.07 98.83,581.35 98.32,583.52 C97.81,585.70 98.95,588.43 98.73,590.44 C98.50,592.45 97.65,594.34 96.96,595.58 C96.27,596.82 95.98,597.30 94.61,597.87 C93.23,598.43 90.81,598.47 88.69,598.97 C86.57,599.47 83.79,599.90 81.88,600.88 C79.97,601.86 78.94,604.04 77.22,604.83 C75.50,605.62 73.37,605.52 71.57,605.62 C69.76,605.72 68.03,605.72 66.41,605.44 C64.78,605.16 62.88,604.98 61.83,603.95 C60.77,602.92 60.99,600.57 60.08,599.26 C59.17,597.94 57.13,597.46 56.35,596.06 C55.57,594.65 56.28,592.11 55.40,590.82 C54.53,589.53 52.28,589.28 51.11,588.33 C49.93,587.38 48.90,586.20 48.36,585.12 C47.81,584.04 47.91,582.61 47.86,581.86 C47.81,581.11 47.54,581.38 48.05,580.63 C48.57,579.87 50.26,578.72 50.94,577.33 C51.63,575.94 51.43,573.68 52.17,572.30 C52.90,570.92 54.36,570.54 55.36,569.03 C56.37,567.52 57.87,564.78 58.21,563.24 C58.54,561.70 56.94,560.67 57.36,559.81 C57.78,558.95 59.70,558.72 60.72,558.08 C61.74,557.43 62.45,556.80 63.48,555.94Z"/><circle cx="63.48" cy="555.94" r="3.80"/><circle cx="66.86" cy="552.92" r="3.04"/><circle cx="70.95" cy="555.97" r="4.37"/><circle cx="75.39" cy="553.01" r="3.42"/><circle cx="81.50" cy="554.98" r="3.99"/><circle cx="86.61" cy="554.24" r="3.80"/><circle cx="92.53" cy="555.96" r="3.04"/><circle cx="96.11" cy="558.99" r="4.37"/><circle cx="98.15" cy="562.08" r="3.42"/><circle cx="97.63" cy="567.85" r="3.99"/><circle cx="100.56" cy="573.50" r="3.80"/><circle cx="101.79" cy="577.40" r="3.04"/><circle cx="98.32" cy="583.52" r="4.37"/><circle cx="98.73" cy="590.44" r="3.42"/><circle cx="96.96" cy="595.58" r="3.99"/><circle cx="94.61" cy="597.87" r="3.80"/><circle cx="88.69" cy="598.97" r="3.04"/><circle cx="81.88" cy="600.88" r="4.37"/><circle cx="77.22" cy="604.83" r="3.42"/><circle cx="71.57" cy="605.62" r="3.99"/><circle cx="66.41" cy="605.44" r="3.80"/><circle cx="61.83" cy="603.95" r="3.04"/><circle cx="60.08" cy="599.26" r="4.37"/><circle cx="56.35" cy="596.06" r="3.42"/><circle cx="55.40" cy="590.82" r="3.99"/><circle cx="51.11" cy="588.33" r="3.80"/><circle cx="48.36" cy="585.12" r="3.04"/><circle cx="47.86" cy="581.86" r="4.37"/><circle cx="48.05" cy="580.63" r="3.42"/><circle cx="50.94" cy="577.33" r="3.99"/><circle cx="52.17" cy="572.30" r="3.80"/><circle cx="55.36" cy="569.03" r="3.04"/><circle cx="58.21" cy="563.24" r="4.37"/><circle cx="57.36" cy="559.81" r="3.42"/><circle cx="60.72" cy="558.08" r="3.99"/></g>
<g clip-path="url(#pc)">
<circle cx="66" cy="561" r="8" fill="#6c92cb" opacity="0.5"/>
<circle cx="82" cy="560" r="8" fill="#6c92cb" opacity="0.5"/>
<circle cx="95" cy="567" r="6" fill="#6c92cb" opacity="0.5"/>
<circle cx="56" cy="585" r="7" fill="#6c92cb" opacity="0.5"/>
<circle cx="68" cy="580" r="6" fill="#6c92cb" opacity="0.5"/>
<circle cx="92" cy="595" r="7" fill="#6c92cb" opacity="0.5"/>
<circle cx="98" cy="582" r="5" fill="#6c92cb" opacity="0.5"/>
<circle cx="76" cy="600" r="5" fill="#6c92cb" opacity="0.5"/>
</g>
<clipPath id="pn"><path d="M294.20,550.80 C296.30,550.23 299.15,549.32 301.90,549.40 C304.65,549.48 308.27,550.50 310.70,551.30 C313.13,552.10 314.97,553.07 316.50,554.20 C318.03,555.33 319.65,556.97 319.90,558.10 C320.15,559.23 318.73,559.95 318.00,561.00 C317.27,562.05 316.72,563.18 315.50,564.40 C314.28,565.62 312.15,567.08 310.70,568.30 C309.25,569.52 307.78,570.40 306.80,571.70 C305.82,573.00 304.97,574.80 304.80,576.10 C304.63,577.40 305.15,578.45 305.80,579.50 C306.45,580.55 307.08,581.58 308.70,582.40 C310.32,583.22 313.23,584.15 315.50,584.40 C317.77,584.65 320.52,583.50 322.30,583.90 C324.08,584.30 325.63,585.58 326.20,586.80 C326.77,588.02 326.50,589.98 325.70,591.20 C324.90,592.42 323.42,593.38 321.40,594.10 C319.38,594.82 315.87,595.10 313.60,595.50 C311.33,595.90 308.93,595.52 307.80,596.50 C306.67,597.48 307.45,599.78 306.80,601.40 C306.15,603.02 305.37,604.92 303.90,606.20 C302.43,607.48 299.78,608.93 298.00,609.10 C296.22,609.27 294.40,608.17 293.20,607.20 C292.00,606.23 291.20,604.60 290.80,603.30 C290.40,602.00 291.37,600.53 290.80,599.40 C290.23,598.27 288.95,597.15 287.40,596.50 C285.85,595.85 283.28,596.15 281.50,595.50 C279.72,594.85 278.15,593.88 276.70,592.60 C275.25,591.32 273.93,589.73 272.80,587.80 C271.67,585.87 270.38,583.27 269.90,581.00 C269.42,578.73 269.50,576.23 269.90,574.20 C270.30,572.17 271.17,570.02 272.30,568.80 C273.43,567.58 275.40,567.63 276.70,566.90 C278.00,566.17 279.30,565.62 280.10,564.40 C280.90,563.18 280.62,561.22 281.50,559.60 C282.38,557.98 284.10,555.83 285.40,554.70 C286.70,553.57 287.83,553.45 289.30,552.80 C290.77,552.15 292.10,551.37 294.20,550.80Z"/></clipPath>
<g fill="#4467a8" stroke="#4467a8" stroke-width="2.00"><path d="M294.20,550.80 C296.30,550.23 299.15,549.32 301.90,549.40 C304.65,549.48 308.27,550.50 310.70,551.30 C313.13,552.10 314.97,553.07 316.50,554.20 C318.03,555.33 319.65,556.97 319.90,558.10 C320.15,559.23 318.73,559.95 318.00,561.00 C317.27,562.05 316.72,563.18 315.50,564.40 C314.28,565.62 312.15,567.08 310.70,568.30 C309.25,569.52 307.78,570.40 306.80,571.70 C305.82,573.00 304.97,574.80 304.80,576.10 C304.63,577.40 305.15,578.45 305.80,579.50 C306.45,580.55 307.08,581.58 308.70,582.40 C310.32,583.22 313.23,584.15 315.50,584.40 C317.77,584.65 320.52,583.50 322.30,583.90 C324.08,584.30 325.63,585.58 326.20,586.80 C326.77,588.02 326.50,589.98 325.70,591.20 C324.90,592.42 323.42,593.38 321.40,594.10 C319.38,594.82 315.87,595.10 313.60,595.50 C311.33,595.90 308.93,595.52 307.80,596.50 C306.67,597.48 307.45,599.78 306.80,601.40 C306.15,603.02 305.37,604.92 303.90,606.20 C302.43,607.48 299.78,608.93 298.00,609.10 C296.22,609.27 294.40,608.17 293.20,607.20 C292.00,606.23 291.20,604.60 290.80,603.30 C290.40,602.00 291.37,600.53 290.80,599.40 C290.23,598.27 288.95,597.15 287.40,596.50 C285.85,595.85 283.28,596.15 281.50,595.50 C279.72,594.85 278.15,593.88 276.70,592.60 C275.25,591.32 273.93,589.73 272.80,587.80 C271.67,585.87 270.38,583.27 269.90,581.00 C269.42,578.73 269.50,576.23 269.90,574.20 C270.30,572.17 271.17,570.02 272.30,568.80 C273.43,567.58 275.40,567.63 276.70,566.90 C278.00,566.17 279.30,565.62 280.10,564.40 C280.90,563.18 280.62,561.22 281.50,559.60 C282.38,557.98 284.10,555.83 285.40,554.70 C286.70,553.57 287.83,553.45 289.30,552.80 C290.77,552.15 292.10,551.37 294.20,550.80Z"/></g>
<g fill="#5d82bf"><path d="M294.20,550.80 C296.30,550.23 299.15,549.32 301.90,549.40 C304.65,549.48 308.27,550.50 310.70,551.30 C313.13,552.10 314.97,553.07 316.50,554.20 C318.03,555.33 319.65,556.97 319.90,558.10 C320.15,559.23 318.73,559.95 318.00,561.00 C317.27,562.05 316.72,563.18 315.50,564.40 C314.28,565.62 312.15,567.08 310.70,568.30 C309.25,569.52 307.78,570.40 306.80,571.70 C305.82,573.00 304.97,574.80 304.80,576.10 C304.63,577.40 305.15,578.45 305.80,579.50 C306.45,580.55 307.08,581.58 308.70,582.40 C310.32,583.22 313.23,584.15 315.50,584.40 C317.77,584.65 320.52,583.50 322.30,583.90 C324.08,584.30 325.63,585.58 326.20,586.80 C326.77,588.02 326.50,589.98 325.70,591.20 C324.90,592.42 323.42,593.38 321.40,594.10 C319.38,594.82 315.87,595.10 313.60,595.50 C311.33,595.90 308.93,595.52 307.80,596.50 C306.67,597.48 307.45,599.78 306.80,601.40 C306.15,603.02 305.37,604.92 303.90,606.20 C302.43,607.48 299.78,608.93 298.00,609.10 C296.22,609.27 294.40,608.17 293.20,607.20 C292.00,606.23 291.20,604.60 290.80,603.30 C290.40,602.00 291.37,600.53 290.80,599.40 C290.23,598.27 288.95,597.15 287.40,596.50 C285.85,595.85 283.28,596.15 281.50,595.50 C279.72,594.85 278.15,593.88 276.70,592.60 C275.25,591.32 273.93,589.73 272.80,587.80 C271.67,585.87 270.38,583.27 269.90,581.00 C269.42,578.73 269.50,576.23 269.90,574.20 C270.30,572.17 271.17,570.02 272.30,568.80 C273.43,567.58 275.40,567.63 276.70,566.90 C278.00,566.17 279.30,565.62 280.10,564.40 C280.90,563.18 280.62,561.22 281.50,559.60 C282.38,557.98 284.10,555.83 285.40,554.70 C286.70,553.57 287.83,553.45 289.30,552.80 C290.77,552.15 292.10,551.37 294.20,550.80Z"/></g>
<g clip-path="url(#pn)">
<circle cx="300" cy="556" r="6" fill="#6c92cb" opacity="0.5"/>
<circle cx="310" cy="556" r="5" fill="#6c92cb" opacity="0.5"/>
<circle cx="283" cy="575" r="6" fill="#6c92cb" opacity="0.5"/>
<circle cx="293" cy="590" r="7" fill="#6c92cb" opacity="0.5"/>
<circle cx="316" cy="590" r="5" fill="#6c92cb" opacity="0.5"/>
<circle cx="299" cy="604" r="4" fill="#6c92cb" opacity="0.5"/>
</g>
<clipPath id="pd"><path d="M197.88,624.97 C198.26,623.74 197.89,623.11 199.30,622.74 C200.70,622.36 203.81,623.36 206.31,622.72 C208.80,622.07 211.98,620.15 214.26,618.87 C216.55,617.59 217.94,615.26 220.02,615.05 C222.10,614.85 224.55,617.00 226.74,617.64 C228.93,618.27 231.02,618.17 233.14,618.87 C235.25,619.58 238.19,620.69 239.43,621.86 C240.66,623.03 240.10,625.31 240.54,625.89 C240.98,626.46 241.88,624.55 242.06,625.32 C242.24,626.09 242.91,629.25 241.60,630.50 C240.29,631.75 236.43,631.80 234.20,632.80 C231.97,633.80 229.57,635.02 228.20,636.50 C226.83,637.98 226.12,639.85 226.00,641.70 C225.88,643.55 226.13,645.98 227.50,647.60 C228.87,649.22 232.86,649.67 234.20,651.40 C235.54,653.13 235.36,657.49 235.54,657.99 C235.72,658.50 235.76,654.94 235.29,654.44 C234.81,653.94 234.47,655.04 232.70,655.00 C230.93,654.96 227.51,654.01 224.66,654.23 C221.80,654.44 218.21,655.41 215.57,656.29 C212.92,657.17 210.41,659.10 208.80,659.50 C207.19,659.90 206.31,659.29 205.92,658.68 C205.53,658.07 206.41,657.57 206.45,655.83 C206.50,654.08 207.33,650.37 206.21,648.22 C205.08,646.07 201.06,644.81 199.71,642.94 C198.35,641.07 198.53,639.13 198.07,636.99 C197.62,634.85 197.03,632.10 196.99,630.09 C196.96,628.09 197.49,626.19 197.88,624.97Z"/><circle cx="197.88" cy="624.97" r="6.00"/><circle cx="199.30" cy="622.74" r="5.40"/><circle cx="206.31" cy="622.72" r="6.60"/><circle cx="214.26" cy="618.87" r="6.00"/><circle cx="220.02" cy="615.05" r="5.40"/><circle cx="226.74" cy="617.64" r="6.60"/><circle cx="233.14" cy="618.87" r="6.00"/><circle cx="239.43" cy="621.86" r="5.40"/><circle cx="240.54" cy="625.89" r="6.60"/><circle cx="242.06" cy="625.32" r="6.00"/><circle cx="235.54" cy="657.99" r="5.40"/><circle cx="235.29" cy="654.44" r="6.60"/><circle cx="232.70" cy="655.00" r="6.00"/><circle cx="224.66" cy="654.23" r="5.40"/><circle cx="215.57" cy="656.29" r="6.60"/><circle cx="208.80" cy="659.50" r="6.00"/><circle cx="205.92" cy="658.68" r="5.40"/><circle cx="206.45" cy="655.83" r="6.60"/><circle cx="206.21" cy="648.22" r="6.00"/><circle cx="199.71" cy="642.94" r="5.40"/><circle cx="198.07" cy="636.99" r="6.60"/><circle cx="196.99" cy="630.09" r="6.00"/></clipPath>
<g fill="#4467a8" stroke="#4467a8" stroke-width="2.00"><path d="M197.88,624.97 C198.26,623.74 197.89,623.11 199.30,622.74 C200.70,622.36 203.81,623.36 206.31,622.72 C208.80,622.07 211.98,620.15 214.26,618.87 C216.55,617.59 217.94,615.26 220.02,615.05 C222.10,614.85 224.55,617.00 226.74,617.64 C228.93,618.27 231.02,618.17 233.14,618.87 C235.25,619.58 238.19,620.69 239.43,621.86 C240.66,623.03 240.10,625.31 240.54,625.89 C240.98,626.46 241.88,624.55 242.06,625.32 C242.24,626.09 242.91,629.25 241.60,630.50 C240.29,631.75 236.43,631.80 234.20,632.80 C231.97,633.80 229.57,635.02 228.20,636.50 C226.83,637.98 226.12,639.85 226.00,641.70 C225.88,643.55 226.13,645.98 227.50,647.60 C228.87,649.22 232.86,649.67 234.20,651.40 C235.54,653.13 235.36,657.49 235.54,657.99 C235.72,658.50 235.76,654.94 235.29,654.44 C234.81,653.94 234.47,655.04 232.70,655.00 C230.93,654.96 227.51,654.01 224.66,654.23 C221.80,654.44 218.21,655.41 215.57,656.29 C212.92,657.17 210.41,659.10 208.80,659.50 C207.19,659.90 206.31,659.29 205.92,658.68 C205.53,658.07 206.41,657.57 206.45,655.83 C206.50,654.08 207.33,650.37 206.21,648.22 C205.08,646.07 201.06,644.81 199.71,642.94 C198.35,641.07 198.53,639.13 198.07,636.99 C197.62,634.85 197.03,632.10 196.99,630.09 C196.96,628.09 197.49,626.19 197.88,624.97Z"/><circle cx="197.88" cy="624.97" r="6.00"/><circle cx="199.30" cy="622.74" r="5.40"/><circle cx="206.31" cy="622.72" r="6.60"/><circle cx="214.26" cy="618.87" r="6.00"/><circle cx="220.02" cy="615.05" r="5.40"/><circle cx="226.74" cy="617.64" r="6.60"/><circle cx="233.14" cy="618.87" r="6.00"/><circle cx="239.43" cy="621.86" r="5.40"/><circle cx="240.54" cy="625.89" r="6.60"/><circle cx="242.06" cy="625.32" r="6.00"/><circle cx="235.54" cy="657.99" r="5.40"/><circle cx="235.29" cy="654.44" r="6.60"/><circle cx="232.70" cy="655.00" r="6.00"/><circle cx="224.66" cy="654.23" r="5.40"/><circle cx="215.57" cy="656.29" r="6.60"/><circle cx="208.80" cy="659.50" r="6.00"/><circle cx="205.92" cy="658.68" r="5.40"/><circle cx="206.45" cy="655.83" r="6.60"/><circle cx="206.21" cy="648.22" r="6.00"/><circle cx="199.71" cy="642.94" r="5.40"/><circle cx="198.07" cy="636.99" r="6.60"/><circle cx="196.99" cy="630.09" r="6.00"/></g>
<g fill="#5d82bf"><path d="M197.88,624.97 C198.26,623.74 197.89,623.11 199.30,622.74 C200.70,622.36 203.81,623.36 206.31,622.72 C208.80,622.07 211.98,620.15 214.26,618.87 C216.55,617.59 217.94,615.26 220.02,615.05 C222.10,614.85 224.55,617.00 226.74,617.64 C228.93,618.27 231.02,618.17 233.14,618.87 C235.25,619.58 238.19,620.69 239.43,621.86 C240.66,623.03 240.10,625.31 240.54,625.89 C240.98,626.46 241.88,624.55 242.06,625.32 C242.24,626.09 242.91,629.25 241.60,630.50 C240.29,631.75 236.43,631.80 234.20,632.80 C231.97,633.80 229.57,635.02 228.20,636.50 C226.83,637.98 226.12,639.85 226.00,641.70 C225.88,643.55 226.13,645.98 227.50,647.60 C228.87,649.22 232.86,649.67 234.20,651.40 C235.54,653.13 235.36,657.49 235.54,657.99 C235.72,658.50 235.76,654.94 235.29,654.44 C234.81,653.94 234.47,655.04 232.70,655.00 C230.93,654.96 227.51,654.01 224.66,654.23 C221.80,654.44 218.21,655.41 215.57,656.29 C212.92,657.17 210.41,659.10 208.80,659.50 C207.19,659.90 206.31,659.29 205.92,658.68 C205.53,658.07 206.41,657.57 206.45,655.83 C206.50,654.08 207.33,650.37 206.21,648.22 C205.08,646.07 201.06,644.81 199.71,642.94 C198.35,641.07 198.53,639.13 198.07,636.99 C197.62,634.85 197.03,632.10 196.99,630.09 C196.96,628.09 197.49,626.19 197.88,624.97Z"/><circle cx="197.88" cy="624.97" r="6.00"/><circle cx="199.30" cy="622.74" r="5.40"/><circle cx="206.31" cy="622.72" r="6.60"/><circle cx="214.26" cy="618.87" r="6.00"/><circle cx="220.02" cy="615.05" r="5.40"/><circle cx="226.74" cy="617.64" r="6.60"/><circle cx="233.14" cy="618.87" r="6.00"/><circle cx="239.43" cy="621.86" r="5.40"/><circle cx="240.54" cy="625.89" r="6.60"/><circle cx="242.06" cy="625.32" r="6.00"/><circle cx="235.54" cy="657.99" r="5.40"/><circle cx="235.29" cy="654.44" r="6.60"/><circle cx="232.70" cy="655.00" r="6.00"/><circle cx="224.66" cy="654.23" r="5.40"/><circle cx="215.57" cy="656.29" r="6.60"/><circle cx="208.80" cy="659.50" r="6.00"/><circle cx="205.92" cy="658.68" r="5.40"/><circle cx="206.45" cy="655.83" r="6.60"/><circle cx="206.21" cy="648.22" r="6.00"/><circle cx="199.71" cy="642.94" r="5.40"/><circle cx="198.07" cy="636.99" r="6.60"/><circle cx="196.99" cy="630.09" r="6.00"/></g>
<g clip-path="url(#pd)">
<circle cx="205" cy="624" r="6" fill="#6c92cb" opacity="0.5"/>
<circle cx="222" cy="617" r="6" fill="#6c92cb" opacity="0.5"/>
<circle cx="238" cy="621" r="5" fill="#6c92cb" opacity="0.5"/>
<circle cx="205" cy="646" r="6" fill="#6c92cb" opacity="0.5"/>
<circle cx="215" cy="655" r="6" fill="#6c92cb" opacity="0.5"/>
<circle cx="230" cy="656" r="4" fill="#6c92cb" opacity="0.5"/>
</g>
<clipPath id="pe"><path d="M240.60,609.40 C241.62,608.07 244.68,604.90 247.20,604.20 C249.72,603.50 253.18,604.57 255.70,605.20 C258.22,605.83 260.57,606.83 262.30,608.00 C264.03,609.17 264.68,610.70 266.10,612.20 C267.52,613.70 269.23,615.42 270.80,617.00 C272.37,618.58 273.93,620.13 275.50,621.70 C277.07,623.27 278.78,624.52 280.20,626.40 C281.62,628.28 283.22,630.82 284.00,633.00 C284.78,635.18 285.13,637.32 284.90,639.50 C284.67,641.68 284.02,644.37 282.60,646.10 C281.18,647.83 278.53,649.03 276.40,649.90 C274.27,650.77 272.00,650.75 269.80,651.30 C267.60,651.85 265.23,652.33 263.20,653.20 C261.17,654.07 259.47,655.55 257.60,656.50 C255.73,657.45 253.73,658.75 252.00,658.90 C250.27,659.05 248.55,658.43 247.20,657.40 C245.85,656.37 245.15,654.42 243.90,652.70 C242.65,650.98 240.87,648.50 239.70,647.10 C238.53,645.70 237.28,645.25 236.90,644.30 C236.52,643.35 236.78,642.03 237.40,641.40 C238.02,640.77 239.43,640.97 240.60,640.50 C241.77,640.03 243.13,639.38 244.40,638.60 C245.67,637.82 246.78,637.22 248.20,635.80 C249.62,634.38 251.80,631.98 252.90,630.10 C254.00,628.22 254.65,626.22 254.80,624.50 C254.95,622.78 254.58,621.22 253.80,619.80 C253.02,618.38 251.67,616.95 250.10,616.00 C248.53,615.05 245.90,614.73 244.40,614.10 C242.90,613.47 241.73,612.98 241.10,612.20 C240.47,611.42 239.58,610.73 240.60,609.40Z"/></clipPath>
<g fill="#c6c6c6" stroke="#c6c6c6" stroke-width="1.60"><path d="M240.60,609.40 C241.62,608.07 244.68,604.90 247.20,604.20 C249.72,603.50 253.18,604.57 255.70,605.20 C258.22,605.83 260.57,606.83 262.30,608.00 C264.03,609.17 264.68,610.70 266.10,612.20 C267.52,613.70 269.23,615.42 270.80,617.00 C272.37,618.58 273.93,620.13 275.50,621.70 C277.07,623.27 278.78,624.52 280.20,626.40 C281.62,628.28 283.22,630.82 284.00,633.00 C284.78,635.18 285.13,637.32 284.90,639.50 C284.67,641.68 284.02,644.37 282.60,646.10 C281.18,647.83 278.53,649.03 276.40,649.90 C274.27,650.77 272.00,650.75 269.80,651.30 C267.60,651.85 265.23,652.33 263.20,653.20 C261.17,654.07 259.47,655.55 257.60,656.50 C255.73,657.45 253.73,658.75 252.00,658.90 C250.27,659.05 248.55,658.43 247.20,657.40 C245.85,656.37 245.15,654.42 243.90,652.70 C242.65,650.98 240.87,648.50 239.70,647.10 C238.53,645.70 237.28,645.25 236.90,644.30 C236.52,643.35 236.78,642.03 237.40,641.40 C238.02,640.77 239.43,640.97 240.60,640.50 C241.77,640.03 243.13,639.38 244.40,638.60 C245.67,637.82 246.78,637.22 248.20,635.80 C249.62,634.38 251.80,631.98 252.90,630.10 C254.00,628.22 254.65,626.22 254.80,624.50 C254.95,622.78 254.58,621.22 253.80,619.80 C253.02,618.38 251.67,616.95 250.10,616.00 C248.53,615.05 245.90,614.73 244.40,614.10 C242.90,613.47 241.73,612.98 241.10,612.20 C240.47,611.42 239.58,610.73 240.60,609.40Z"/></g>
<g fill="#d6d6d6"><path d="M240.60,609.40 C241.62,608.07 244.68,604.90 247.20,604.20 C249.72,603.50 253.18,604.57 255.70,605.20 C258.22,605.83 260.57,606.83 262.30,608.00 C264.03,609.17 264.68,610.70 266.10,612.20 C267.52,613.70 269.23,615.42 270.80,617.00 C272.37,618.58 273.93,620.13 275.50,621.70 C277.07,623.27 278.78,624.52 280.20,626.40 C281.62,628.28 283.22,630.82 284.00,633.00 C284.78,635.18 285.13,637.32 284.90,639.50 C284.67,641.68 284.02,644.37 282.60,646.10 C281.18,647.83 278.53,649.03 276.40,649.90 C274.27,650.77 272.00,650.75 269.80,651.30 C267.60,651.85 265.23,652.33 263.20,653.20 C261.17,654.07 259.47,655.55 257.60,656.50 C255.73,657.45 253.73,658.75 252.00,658.90 C250.27,659.05 248.55,658.43 247.20,657.40 C245.85,656.37 245.15,654.42 243.90,652.70 C242.65,650.98 240.87,648.50 239.70,647.10 C238.53,645.70 237.28,645.25 236.90,644.30 C236.52,643.35 236.78,642.03 237.40,641.40 C238.02,640.77 239.43,640.97 240.60,640.50 C241.77,640.03 243.13,639.38 244.40,638.60 C245.67,637.82 246.78,637.22 248.20,635.80 C249.62,634.38 251.80,631.98 252.90,630.10 C254.00,628.22 254.65,626.22 254.80,624.50 C254.95,622.78 254.58,621.22 253.80,619.80 C253.02,618.38 251.67,616.95 250.10,616.00 C248.53,615.05 245.90,614.73 244.40,614.10 C242.90,613.47 241.73,612.98 241.10,612.20 C240.47,611.42 239.58,610.73 240.60,609.40Z"/></g>
<g clip-path="url(#pe)">
<path d="M240.60,609.40 C241.62,608.07 244.68,604.90 247.20,604.20 C249.72,603.50 253.18,604.57 255.70,605.20 C258.22,605.83 260.57,606.83 262.30,608.00 C264.03,609.17 264.68,610.70 266.10,612.20 C267.52,613.70 269.23,615.42 270.80,617.00 C272.37,618.58 273.93,620.13 275.50,621.70 C277.07,623.27 278.78,624.52 280.20,626.40 C281.62,628.28 283.22,630.82 284.00,633.00 C284.78,635.18 285.13,637.32 284.90,639.50 C284.67,641.68 284.02,644.37 282.60,646.10 C281.18,647.83 278.53,649.03 276.40,649.90 C274.27,650.77 272.00,650.75 269.80,651.30 C267.60,651.85 265.23,652.33 263.20,653.20 C261.17,654.07 259.47,655.55 257.60,656.50 C255.73,657.45 253.73,658.75 252.00,658.90 C250.27,659.05 248.55,658.43 247.20,657.40 C245.85,656.37 245.15,654.42 243.90,652.70 C242.65,650.98 240.87,648.50 239.70,647.10 C238.53,645.70 237.28,645.25 236.90,644.30 C236.52,643.35 236.78,642.03 237.40,641.40 C238.02,640.77 239.43,640.97 240.60,640.50 C241.77,640.03 243.13,639.38 244.40,638.60 C245.67,637.82 246.78,637.22 248.20,635.80 C249.62,634.38 251.80,631.98 252.90,630.10 C254.00,628.22 254.65,626.22 254.80,624.50 C254.95,622.78 254.58,621.22 253.80,619.80 C253.02,618.38 251.67,616.95 250.10,616.00 C248.53,615.05 245.90,614.73 244.40,614.10 C242.90,613.47 241.73,612.98 241.10,612.20 C240.47,611.42 239.58,610.73 240.60,609.40Z" fill="none" stroke="#c8c8c8" stroke-width="5.2"/>
<circle cx="249" cy="610" r="4" fill="#dcdcdc" opacity="0.5"/>
<circle cx="260" cy="610" r="3.5" fill="#dcdcdc" opacity="0.5"/>
<circle cx="266" cy="620" r="3.5" fill="#dcdcdc" opacity="0.5"/>
<circle cx="248" cy="648" r="4" fill="#dcdcdc" opacity="0.5"/>
<circle cx="242" cy="644" r="3" fill="#dcdcdc" opacity="0.5"/>
<circle cx="256" cy="652" r="3" fill="#dcdcdc" opacity="0.5"/>
<circle cx="270" cy="630" r="3" fill="#dcdcdc" opacity="0.5"/>
</g>
<path d="M65.8,568.4 L89.1,591.7 M65.8,591.7 L89.1,568.4" stroke="#8a1515" stroke-width="5.4" fill="none"/>
<path d="M151,647.4 L161,657.2 M151,657.2 L161,647.4" stroke="#8a1515" stroke-width="2.6" fill="none"/>
<path d="M258.4,628.8 L274,643.4 M258.4,643.4 L274,628.8" stroke="#8a1515" stroke-width="4.2" fill="none"/>
<path d="M238.8,634.4 L239.8,640.8" stroke="#a51d28" stroke-width="2" fill="none"/>
<g transform="translate(111.1,609) scale(0.9420,0.9290) translate(-155.8,-496.6)">
<clipPath id="pp"><path d="M176.85,503.47 C177.79,502.70 178.39,500.38 179.40,500.41 C180.42,500.45 181.49,503.65 182.95,503.67 C184.40,503.68 186.39,500.75 188.14,500.50 C189.89,500.25 191.65,501.94 193.44,502.17 C195.22,502.40 196.82,501.53 198.87,501.88 C200.92,502.24 203.84,503.44 205.73,504.31 C207.62,505.17 209.02,506.10 210.21,507.07 C211.41,508.03 212.57,508.69 212.91,510.12 C213.24,511.54 212.13,514.08 212.23,515.62 C212.33,517.16 213.23,518.57 213.51,519.35 C213.79,520.14 214.30,519.57 213.93,520.33 C213.56,521.09 213.19,523.12 211.30,523.90 C209.41,524.68 205.15,524.53 202.60,525.00 C200.05,525.47 197.92,525.87 196.00,526.70 C194.08,527.53 192.02,529.00 191.10,530.00 C190.18,531.00 190.05,532.17 190.50,532.70 C190.95,533.23 192.33,533.28 193.80,533.20 C195.27,533.12 197.48,532.65 199.30,532.20 C201.12,531.75 202.70,530.68 204.70,530.50 C206.70,530.32 209.66,530.58 211.30,531.10 C212.94,531.62 214.53,532.86 214.54,533.63 C214.54,534.40 211.63,534.48 211.34,535.74 C211.05,536.99 212.83,539.62 212.80,541.16 C212.76,542.69 211.69,543.99 211.12,544.94 C210.56,545.90 210.43,546.23 209.42,546.90 C208.42,547.56 206.96,548.63 205.11,548.94 C203.26,549.25 200.41,548.33 198.34,548.74 C196.27,549.14 194.56,550.66 192.68,551.37 C190.81,552.08 188.91,552.46 187.10,553.00 C185.28,553.53 183.35,554.41 181.80,554.60 C180.25,554.79 178.78,554.84 177.81,554.16 C176.85,553.49 176.80,551.90 176.01,550.54 C175.22,549.18 174.12,547.33 173.07,546.00 C172.03,544.66 170.54,543.84 169.73,542.51 C168.93,541.17 169.33,539.06 168.22,537.97 C167.11,536.88 164.12,537.05 163.07,535.97 C162.02,534.89 162.42,532.31 161.91,531.50 C161.41,530.69 160.03,531.54 160.02,531.10 C160.01,530.66 161.25,529.86 161.83,528.86 C162.41,527.87 163.17,526.56 163.50,525.13 C163.82,523.70 163.29,521.26 163.76,520.28 C164.22,519.29 165.22,519.94 166.28,519.22 C167.34,518.51 169.44,517.51 170.12,516.00 C170.80,514.49 170.20,511.56 170.36,510.17 C170.53,508.77 170.54,508.48 171.10,507.63 C171.67,506.77 172.77,505.72 173.73,505.03 C174.69,504.33 175.90,504.23 176.85,503.47Z"/><circle cx="176.85" cy="503.47" r="3.80"/><circle cx="179.40" cy="500.41" r="3.04"/><circle cx="182.95" cy="503.67" r="4.37"/><circle cx="188.14" cy="500.50" r="3.42"/><circle cx="193.44" cy="502.17" r="3.99"/><circle cx="198.87" cy="501.88" r="3.80"/><circle cx="205.73" cy="504.31" r="3.04"/><circle cx="210.21" cy="507.07" r="4.37"/><circle cx="212.91" cy="510.12" r="3.42"/><circle cx="212.23" cy="515.62" r="3.99"/><circle cx="213.51" cy="519.35" r="3.80"/><circle cx="213.93" cy="520.33" r="3.04"/><circle cx="214.54" cy="533.63" r="3.04"/><circle cx="211.34" cy="535.74" r="4.37"/><circle cx="212.80" cy="541.16" r="3.42"/><circle cx="211.12" cy="544.94" r="3.99"/><circle cx="209.42" cy="546.90" r="3.80"/><circle cx="205.11" cy="548.94" r="3.04"/><circle cx="198.34" cy="548.74" r="4.37"/><circle cx="192.68" cy="551.37" r="3.42"/><circle cx="187.10" cy="553.00" r="3.99"/><circle cx="181.80" cy="554.60" r="3.80"/><circle cx="177.81" cy="554.16" r="3.04"/><circle cx="176.01" cy="550.54" r="4.37"/><circle cx="173.07" cy="546.00" r="3.42"/><circle cx="169.73" cy="542.51" r="3.99"/><circle cx="168.22" cy="537.97" r="3.80"/><circle cx="163.07" cy="535.97" r="3.04"/><circle cx="161.91" cy="531.50" r="4.37"/><circle cx="160.02" cy="531.10" r="3.42"/><circle cx="161.83" cy="528.86" r="3.99"/><circle cx="163.50" cy="525.13" r="3.80"/><circle cx="163.76" cy="520.28" r="3.04"/><circle cx="166.28" cy="519.22" r="4.37"/><circle cx="170.12" cy="516.00" r="3.42"/><circle cx="170.36" cy="510.17" r="3.99"/><circle cx="171.10" cy="507.63" r="3.80"/><circle cx="173.73" cy="505.03" r="3.04"/></clipPath>
<g fill="#4467a8" stroke="#4467a8" stroke-width="2.10"><path d="M176.85,503.47 C177.79,502.70 178.39,500.38 179.40,500.41 C180.42,500.45 181.49,503.65 182.95,503.67 C184.40,503.68 186.39,500.75 188.14,500.50 C189.89,500.25 191.65,501.94 193.44,502.17 C195.22,502.40 196.82,501.53 198.87,501.88 C200.92,502.24 203.84,503.44 205.73,504.31 C207.62,505.17 209.02,506.10 210.21,507.07 C211.41,508.03 212.57,508.69 212.91,510.12 C213.24,511.54 212.13,514.08 212.23,515.62 C212.33,517.16 213.23,518.57 213.51,519.35 C213.79,520.14 214.30,519.57 213.93,520.33 C213.56,521.09 213.19,523.12 211.30,523.90 C209.41,524.68 205.15,524.53 202.60,525.00 C200.05,525.47 197.92,525.87 196.00,526.70 C194.08,527.53 192.02,529.00 191.10,530.00 C190.18,531.00 190.05,532.17 190.50,532.70 C190.95,533.23 192.33,533.28 193.80,533.20 C195.27,533.12 197.48,532.65 199.30,532.20 C201.12,531.75 202.70,530.68 204.70,530.50 C206.70,530.32 209.66,530.58 211.30,531.10 C212.94,531.62 214.53,532.86 214.54,533.63 C214.54,534.40 211.63,534.48 211.34,535.74 C211.05,536.99 212.83,539.62 212.80,541.16 C212.76,542.69 211.69,543.99 211.12,544.94 C210.56,545.90 210.43,546.23 209.42,546.90 C208.42,547.56 206.96,548.63 205.11,548.94 C203.26,549.25 200.41,548.33 198.34,548.74 C196.27,549.14 194.56,550.66 192.68,551.37 C190.81,552.08 188.91,552.46 187.10,553.00 C185.28,553.53 183.35,554.41 181.80,554.60 C180.25,554.79 178.78,554.84 177.81,554.16 C176.85,553.49 176.80,551.90 176.01,550.54 C175.22,549.18 174.12,547.33 173.07,546.00 C172.03,544.66 170.54,543.84 169.73,542.51 C168.93,541.17 169.33,539.06 168.22,537.97 C167.11,536.88 164.12,537.05 163.07,535.97 C162.02,534.89 162.42,532.31 161.91,531.50 C161.41,530.69 160.03,531.54 160.02,531.10 C160.01,530.66 161.25,529.86 161.83,528.86 C162.41,527.87 163.17,526.56 163.50,525.13 C163.82,523.70 163.29,521.26 163.76,520.28 C164.22,519.29 165.22,519.94 166.28,519.22 C167.34,518.51 169.44,517.51 170.12,516.00 C170.80,514.49 170.20,511.56 170.36,510.17 C170.53,508.77 170.54,508.48 171.10,507.63 C171.67,506.77 172.77,505.72 173.73,505.03 C174.69,504.33 175.90,504.23 176.85,503.47Z"/><circle cx="176.85" cy="503.47" r="3.80"/><circle cx="179.40" cy="500.41" r="3.04"/><circle cx="182.95" cy="503.67" r="4.37"/><circle cx="188.14" cy="500.50" r="3.42"/><circle cx="193.44" cy="502.17" r="3.99"/><circle cx="198.87" cy="501.88" r="3.80"/><circle cx="205.73" cy="504.31" r="3.04"/><circle cx="210.21" cy="507.07" r="4.37"/><circle cx="212.91" cy="510.12" r="3.42"/><circle cx="212.23" cy="515.62" r="3.99"/><circle cx="213.51" cy="519.35" r="3.80"/><circle cx="213.93" cy="520.33" r="3.04"/><circle cx="214.54" cy="533.63" r="3.04"/><circle cx="211.34" cy="535.74" r="4.37"/><circle cx="212.80" cy="541.16" r="3.42"/><circle cx="211.12" cy="544.94" r="3.99"/><circle cx="209.42" cy="546.90" r="3.80"/><circle cx="205.11" cy="548.94" r="3.04"/><circle cx="198.34" cy="548.74" r="4.37"/><circle cx="192.68" cy="551.37" r="3.42"/><circle cx="187.10" cy="553.00" r="3.99"/><circle cx="181.80" cy="554.60" r="3.80"/><circle cx="177.81" cy="554.16" r="3.04"/><circle cx="176.01" cy="550.54" r="4.37"/><circle cx="173.07" cy="546.00" r="3.42"/><circle cx="169.73" cy="542.51" r="3.99"/><circle cx="168.22" cy="537.97" r="3.80"/><circle cx="163.07" cy="535.97" r="3.04"/><circle cx="161.91" cy="531.50" r="4.37"/><circle cx="160.02" cy="531.10" r="3.42"/><circle cx="161.83" cy="528.86" r="3.99"/><circle cx="163.50" cy="525.13" r="3.80"/><circle cx="163.76" cy="520.28" r="3.04"/><circle cx="166.28" cy="519.22" r="4.37"/><circle cx="170.12" cy="516.00" r="3.42"/><circle cx="170.36" cy="510.17" r="3.99"/><circle cx="171.10" cy="507.63" r="3.80"/><circle cx="173.73" cy="505.03" r="3.04"/></g>
<g fill="#5d82bf"><path d="M176.85,503.47 C177.79,502.70 178.39,500.38 179.40,500.41 C180.42,500.45 181.49,503.65 182.95,503.67 C184.40,503.68 186.39,500.75 188.14,500.50 C189.89,500.25 191.65,501.94 193.44,502.17 C195.22,502.40 196.82,501.53 198.87,501.88 C200.92,502.24 203.84,503.44 205.73,504.31 C207.62,505.17 209.02,506.10 210.21,507.07 C211.41,508.03 212.57,508.69 212.91,510.12 C213.24,511.54 212.13,514.08 212.23,515.62 C212.33,517.16 213.23,518.57 213.51,519.35 C213.79,520.14 214.30,519.57 213.93,520.33 C213.56,521.09 213.19,523.12 211.30,523.90 C209.41,524.68 205.15,524.53 202.60,525.00 C200.05,525.47 197.92,525.87 196.00,526.70 C194.08,527.53 192.02,529.00 191.10,530.00 C190.18,531.00 190.05,532.17 190.50,532.70 C190.95,533.23 192.33,533.28 193.80,533.20 C195.27,533.12 197.48,532.65 199.30,532.20 C201.12,531.75 202.70,530.68 204.70,530.50 C206.70,530.32 209.66,530.58 211.30,531.10 C212.94,531.62 214.53,532.86 214.54,533.63 C214.54,534.40 211.63,534.48 211.34,535.74 C211.05,536.99 212.83,539.62 212.80,541.16 C212.76,542.69 211.69,543.99 211.12,544.94 C210.56,545.90 210.43,546.23 209.42,546.90 C208.42,547.56 206.96,548.63 205.11,548.94 C203.26,549.25 200.41,548.33 198.34,548.74 C196.27,549.14 194.56,550.66 192.68,551.37 C190.81,552.08 188.91,552.46 187.10,553.00 C185.28,553.53 183.35,554.41 181.80,554.60 C180.25,554.79 178.78,554.84 177.81,554.16 C176.85,553.49 176.80,551.90 176.01,550.54 C175.22,549.18 174.12,547.33 173.07,546.00 C172.03,544.66 170.54,543.84 169.73,542.51 C168.93,541.17 169.33,539.06 168.22,537.97 C167.11,536.88 164.12,537.05 163.07,535.97 C162.02,534.89 162.42,532.31 161.91,531.50 C161.41,530.69 160.03,531.54 160.02,531.10 C160.01,530.66 161.25,529.86 161.83,528.86 C162.41,527.87 163.17,526.56 163.50,525.13 C163.82,523.70 163.29,521.26 163.76,520.28 C164.22,519.29 165.22,519.94 166.28,519.22 C167.34,518.51 169.44,517.51 170.12,516.00 C170.80,514.49 170.20,511.56 170.36,510.17 C170.53,508.77 170.54,508.48 171.10,507.63 C171.67,506.77 172.77,505.72 173.73,505.03 C174.69,504.33 175.90,504.23 176.85,503.47Z"/><circle cx="176.85" cy="503.47" r="3.80"/><circle cx="179.40" cy="500.41" r="3.04"/><circle cx="182.95" cy="503.67" r="4.37"/><circle cx="188.14" cy="500.50" r="3.42"/><circle cx="193.44" cy="502.17" r="3.99"/><circle cx="198.87" cy="501.88" r="3.80"/><circle cx="205.73" cy="504.31" r="3.04"/><circle cx="210.21" cy="507.07" r="4.37"/><circle cx="212.91" cy="510.12" r="3.42"/><circle cx="212.23" cy="515.62" r="3.99"/><circle cx="213.51" cy="519.35" r="3.80"/><circle cx="213.93" cy="520.33" r="3.04"/><circle cx="214.54" cy="533.63" r="3.04"/><circle cx="211.34" cy="535.74" r="4.37"/><circle cx="212.80" cy="541.16" r="3.42"/><circle cx="211.12" cy="544.94" r="3.99"/><circle cx="209.42" cy="546.90" r="3.80"/><circle cx="205.11" cy="548.94" r="3.04"/><circle cx="198.34" cy="548.74" r="4.37"/><circle cx="192.68" cy="551.37" r="3.42"/><circle cx="187.10" cy="553.00" r="3.99"/><circle cx="181.80" cy="554.60" r="3.80"/><circle cx="177.81" cy="554.16" r="3.04"/><circle cx="176.01" cy="550.54" r="4.37"/><circle cx="173.07" cy="546.00" r="3.42"/><circle cx="169.73" cy="542.51" r="3.99"/><circle cx="168.22" cy="537.97" r="3.80"/><circle cx="163.07" cy="535.97" r="3.04"/><circle cx="161.91" cy="531.50" r="4.37"/><circle cx="160.02" cy="531.10" r="3.42"/><circle cx="161.83" cy="528.86" r="3.99"/><circle cx="163.50" cy="525.13" r="3.80"/><circle cx="163.76" cy="520.28" r="3.04"/><circle cx="166.28" cy="519.22" r="4.37"/><circle cx="170.12" cy="516.00" r="3.42"/><circle cx="170.36" cy="510.17" r="3.99"/><circle cx="171.10" cy="507.63" r="3.80"/><circle cx="173.73" cy="505.03" r="3.04"/></g>
<g clip-path="url(#pp)">
<circle cx="180" cy="508" r="8" fill="#6c92cb" opacity="0.5"/>
<circle cx="195" cy="507" r="7" fill="#6c92cb" opacity="0.5"/>
<circle cx="207" cy="512" r="6" fill="#6c92cb" opacity="0.5"/>
<circle cx="166" cy="526" r="7" fill="#6c92cb" opacity="0.5"/>
<circle cx="175" cy="522" r="6" fill="#6c92cb" opacity="0.5"/>
<circle cx="188" cy="520" r="5" fill="#6c92cb" opacity="0.5"/>
<circle cx="203" cy="545" r="6" fill="#6c92cb" opacity="0.5"/>
<circle cx="210" cy="540" r="5" fill="#6c92cb" opacity="0.5"/>
<circle cx="178" cy="542" r="4" fill="#6c92cb" opacity="0.5"/>
</g>
</g>
<path d="M151,647.4 L161,657.2 M151,657.2 L161,647.4" stroke="#8a1515" stroke-width="2.6" fill="none"/>
<text transform="translate(478.30,10.80) scale(0.8500,1)" x="-0.27" y="0" font-size="17.47" font-weight="bold" fill="#111"  stroke="#111" stroke-width="0.4">c</text>
<rect x="505.05" y="30.10" width="28.10" height="154.10" fill="#bbbcbb"/>
<rect x="540.50" y="89.90" width="28.10" height="94.30" fill="#b21f2f"/>
<rect x="575.95" y="170.90" width="28.10" height="13.30" fill="#a2d2e0"/>
<rect x="611.40" y="172.00" width="28.10" height="12.20" fill="#5682bf"/>
<rect x="646.85" y="150.10" width="28.10" height="34.10" fill="#2f3d86"/>
<line x1="496.60" y1="22.00" x2="496.60" y2="184.75" stroke="#111" stroke-width="1.1" />
<line x1="496.05" y1="184.20" x2="683.90" y2="184.20" stroke="#111" stroke-width="1.1" />
<line x1="519.10" y1="184.20" x2="519.10" y2="190.80" stroke="#111" stroke-width="1.1" />
<line x1="554.55" y1="184.20" x2="554.55" y2="190.80" stroke="#111" stroke-width="1.1" />
<line x1="590.00" y1="184.20" x2="590.00" y2="190.80" stroke="#111" stroke-width="1.1" />
<line x1="625.45" y1="184.20" x2="625.45" y2="190.80" stroke="#111" stroke-width="1.1" />
<line x1="660.90" y1="184.20" x2="660.90" y2="190.80" stroke="#111" stroke-width="1.1" />
<line x1="490.60" y1="30.10" x2="496.60" y2="30.10" stroke="#111" stroke-width="1.1" />
<text transform="translate(447.40,35.80) scale(1.0469,1)" x="0.10 8.58 17.06 25.15" y="0" font-size="14.90" font-weight="normal" fill="#111"  stroke="#111" stroke-width="0.2">100%</text>
<line x1="490.60" y1="68.60" x2="496.60" y2="68.60" stroke="#111" stroke-width="1.1" />
<text transform="translate(457.50,74.30) scale(0.9933,1)" x="0.13 8.71 16.92" y="0" font-size="14.99" font-weight="normal" fill="#111"  stroke="#111" stroke-width="0.2">75%</text>
<line x1="490.60" y1="107.10" x2="496.60" y2="107.10" stroke="#111" stroke-width="1.1" />
<text transform="translate(456.50,112.80) scale(1.0326,1)" x="0.12 8.66 16.82" y="0" font-size="14.90" font-weight="normal" fill="#111"  stroke="#111" stroke-width="0.2">50%</text>
<line x1="490.60" y1="145.70" x2="496.60" y2="145.70" stroke="#111" stroke-width="1.1" />
<text transform="translate(456.50,151.40) scale(1.0326,1)" x="0.12 8.66 16.82" y="0" font-size="14.90" font-weight="normal" fill="#111"  stroke="#111" stroke-width="0.2">25%</text>
<line x1="490.60" y1="184.20" x2="496.60" y2="184.20" stroke="#111" stroke-width="1.1" />
<text transform="translate(466.20,189.90) scale(0.9800,1)" x="0.17 8.46" y="0" font-size="14.90" font-weight="normal" fill="#111"  stroke="#111" stroke-width="0.2">0%</text>
<text transform="translate(499.60,27.20) scale(1.0143,1)" x="0.10 8.74 17.39 25.64" y="0" font-size="15.19" font-weight="normal" fill="#111"  stroke="#111" stroke-width="0.2">100%</text>
<text transform="translate(538.60,87.20) scale(1.0393,1)" x="0.12 8.66 16.82" y="0" font-size="14.90" font-weight="normal" fill="#111"  stroke="#111" stroke-width="0.2">61%</text>
<text transform="translate(578.70,168.00) scale(1.0497,1)" x="0.17 8.46" y="0" font-size="14.90" font-weight="normal" fill="#111"  stroke="#111" stroke-width="0.2">9%</text>
<text transform="translate(614.20,169.10) scale(1.0311,1)" x="0.17 8.46" y="0" font-size="14.90" font-weight="normal" fill="#111"  stroke="#111" stroke-width="0.2">8%</text>
<text transform="translate(645.00,147.20) scale(1.0393,1)" x="0.12 8.66 16.82" y="0" font-size="14.90" font-weight="normal" fill="#111"  stroke="#111" stroke-width="0.2">22%</text>
<line x1="589.30" y1="122.50" x2="661.70" y2="122.50" stroke="#111" stroke-width="1.4" />
<text transform="translate(602.90,116.60) scale(1.0603,1)" x="0.09 8.55 16.97 21.24 29.31" y="0" font-size="14.90" font-weight="normal" fill="#111"  stroke="#111" stroke-width="0.2">38.7%</text>
<text transform="translate(438.40,167.40) rotate(-90) scale(1.1239,1)" x="-0.82 7.81 12.52 20.52 28.52 36.65 42.19 46.88 50.24 58.23 58.73 70.30 78.55 79.05 86.13 95.55 104.96" y="0" font-size="14.07" font-weight="normal" fill="#111"  stroke="#111" stroke-width="0.2">Proportion of CDS</text>
<text transform="translate(475.90,218.60) scale(0.8989,1)" x="0.00" y="0" font-size="18.21" font-weight="bold" fill="#111"  stroke="#111" stroke-width="0.4">d</text>
<rect x="505.05" y="261.50" width="28.10" height="130.85" fill="#bbbcbb"/>
<rect x="540.50" y="237.90" width="28.10" height="154.45" fill="#b21f2f"/>
<rect x="575.95" y="310.75" width="28.10" height="81.60" fill="#a2d2e0"/>
<rect x="611.40" y="247.00" width="28.10" height="145.35" fill="#5682bf"/>
<rect x="646.85" y="314.10" width="28.10" height="78.25" fill="#2f3d86"/>
<line x1="496.60" y1="229.30" x2="496.60" y2="392.90" stroke="#111" stroke-width="1.1" />
<line x1="496.05" y1="392.35" x2="683.90" y2="392.35" stroke="#111" stroke-width="1.1" />
<line x1="519.10" y1="392.35" x2="519.10" y2="398.80" stroke="#111" stroke-width="1.1" />
<line x1="554.55" y1="392.35" x2="554.55" y2="398.80" stroke="#111" stroke-width="1.1" />
<line x1="590.00" y1="392.35" x2="590.00" y2="398.80" stroke="#111" stroke-width="1.1" />
<line x1="625.45" y1="392.35" x2="625.45" y2="398.80" stroke="#111" stroke-width="1.1" />
<line x1="660.90" y1="392.35" x2="660.90" y2="398.80" stroke="#111" stroke-width="1.1" />
<line x1="490.60" y1="261.50" x2="496.60" y2="261.50" stroke="#111" stroke-width="1.1" />
<text transform="translate(456.30,267.20) scale(1.0687,1)" x="-0.00 8.29 12.43 20.72" y="0" font-size="14.90" font-weight="normal" fill="#111"  stroke="#111" stroke-width="0.2">1.00</text>
<line x1="490.60" y1="294.20" x2="496.60" y2="294.20" stroke="#111" stroke-width="1.1" />
<text transform="translate(456.50,299.90) scale(1.0618,1)" x="0.00 8.29 12.43 20.72" y="0" font-size="14.90" font-weight="normal" fill="#111"  stroke="#111" stroke-width="0.2">0.75</text>
<line x1="490.60" y1="326.90" x2="496.60" y2="326.90" stroke="#111" stroke-width="1.1" />
<text transform="translate(456.50,332.60) scale(1.0618,1)" x="0.00 8.29 12.43 20.72" y="0" font-size="14.90" font-weight="normal" fill="#111"  stroke="#111" stroke-width="0.2">0.50</text>
<line x1="490.60" y1="359.60" x2="496.60" y2="359.60" stroke="#111" stroke-width="1.1" />
<text transform="translate(456.50,365.30) scale(1.0618,1)" x="0.00 8.29 12.43 20.72" y="0" font-size="14.90" font-weight="normal" fill="#111"  stroke="#111" stroke-width="0.2">0.25</text>
<line x1="490.60" y1="392.35" x2="496.60" y2="392.35" stroke="#111" stroke-width="1.1" />
<text transform="translate(456.60,398.05) scale(1.0583,1)" x="0.00 8.29 12.43 20.72" y="0" font-size="14.90" font-weight="normal" fill="#111"  stroke="#111" stroke-width="0.2">0.00</text>
<line x1="497.00" y1="261.60" x2="681.00" y2="261.60" stroke="#858585" stroke-width="2.0" stroke-dasharray="7.5,3.4"/>
<text transform="translate(504.40,248.80) scale(1.0545,1)" x="0.00 8.13 12.19 20.32" y="0" font-size="14.61" font-weight="normal" fill="#111"  stroke="#111" stroke-width="0.2">1.00</text>
<text transform="translate(539.10,225.10) scale(1.0898,1)" x="0.00 8.05 12.07 20.12" y="0" font-size="14.47" font-weight="normal" fill="#111"  stroke="#111" stroke-width="0.2">1.18</text>
<text transform="translate(574.60,297.40) scale(1.1007,1)" x="0.00 7.97 11.95 19.92" y="0" font-size="14.33" font-weight="normal" fill="#111"  stroke="#111" stroke-width="0.2">0.63</text>
<text transform="translate(610.20,234.00) scale(1.0428,1)" x="0.00 8.25 12.37 20.61" y="0" font-size="14.83" font-weight="normal" fill="#111"  stroke="#111" stroke-width="0.2">1.11</text>
<text transform="translate(645.40,301.00) scale(1.0756,1)" x="0.00 8.13 12.19 20.32" y="0" font-size="14.61" font-weight="normal" fill="#111"  stroke="#111" stroke-width="0.2">0.60</text>
<path d="M554.50,228.70 L554.50,235.60 M551.60,230.55 L557.40,233.75 M551.60,233.75 L557.40,230.55" stroke="#111" stroke-width="1.25" stroke-linecap="round" fill="none"/><circle cx="554.50" cy="232.15" r="1.3" fill="#111"/>
<path d="M625.50,238.30 L625.50,244.70 M622.60,239.90 L628.40,243.10 M622.60,243.10 L628.40,239.90" stroke="#111" stroke-width="1.25" stroke-linecap="round" fill="none"/><circle cx="625.50" cy="241.50" r="1.3" fill="#111"/>
<path d="M590.1,300.3 L590.1,307.6 M588.0,302.7 L592.2,302.7" stroke="#111" stroke-width="1.7" fill="none"/>
<path d="M661.3,304.0 L661.3,311.3 M659.1999999999999,306.4 L663.4,306.4" stroke="#111" stroke-width="1.7" fill="none"/>
<text transform="translate(414.00,402.40) rotate(-90) scale(1.2853,1)" x="-0.39 8.37 15.43 22.33 28.40 35.48 42.38 48.45 48.95 59.01 66.07 73.26 73.76 84.33 88.20 92.56 99.78 110.56 117.35 123.54 130.84 134.15 138.06" y="0" font-size="12.83" font-weight="normal" fill="#111"  stroke="#111" stroke-width="0.2">Nonsense and frameshift</text>
<text transform="translate(431.20,399.30) rotate(-90) scale(1.2572,1)" x="0.13 6.62 13.91 18.55 21.46 28.57 36.21 36.71 43.76 50.02 57.11 64.33 71.98 75.74 76.24 85.72 88.75 89.25 98.88 107.68 110.85 113.88 120.66 127.88 135.17" y="0" font-size="12.97" font-weight="normal" fill="#111"  stroke="#111" stroke-width="0.2">variant counts in ClinVar</text>
<text transform="translate(449.00,358.20) rotate(-90) scale(1.1856,1)" x="0.06 4.65 12.09 19.73 24.37 35.74 43.34 46.66 49.54 55.94 63.41 71.05" y="0" font-size="13.66" font-weight="normal" fill="#111"  stroke="#111" stroke-width="0.2">(normalised)</text>
<text transform="translate(476.90,426.10) scale(0.9084,1)" x="0.00" y="0" font-size="18.22" font-weight="bold" fill="#111"  stroke="#111" stroke-width="0.4">e</text>
<rect x="505.05" y="541.90" width="28.10" height="57.60" fill="#bbbcbb"/>
<rect x="540.50" y="555.20" width="28.10" height="44.30" fill="#b21f2f"/>
<rect x="575.95" y="541.10" width="28.10" height="58.40" fill="#a2d2e0"/>
<rect x="611.40" y="569.20" width="28.10" height="30.30" fill="#5682bf"/>
<rect x="646.85" y="450.80" width="28.10" height="148.70" fill="#2f3d86"/>
<line x1="496.60" y1="436.60" x2="496.60" y2="600.05" stroke="#111" stroke-width="1.1" />
<line x1="496.05" y1="599.50" x2="683.90" y2="599.50" stroke="#111" stroke-width="1.1" />
<line x1="519.10" y1="599.50" x2="519.10" y2="606.00" stroke="#111" stroke-width="1.1" />
<line x1="554.55" y1="599.50" x2="554.55" y2="606.00" stroke="#111" stroke-width="1.1" />
<line x1="590.00" y1="599.50" x2="590.00" y2="606.00" stroke="#111" stroke-width="1.1" />
<line x1="625.45" y1="599.50" x2="625.45" y2="606.00" stroke="#111" stroke-width="1.1" />
<line x1="660.90" y1="599.50" x2="660.90" y2="606.00" stroke="#111" stroke-width="1.1" />
<line x1="490.60" y1="471.20" x2="496.60" y2="471.20" stroke="#111" stroke-width="1.1" />
<text transform="translate(456.20,476.90) scale(1.0427,1)" x="0.12 8.66 16.82" y="0" font-size="14.90" font-weight="normal" fill="#111"  stroke="#111" stroke-width="0.2">30%</text>
<line x1="490.60" y1="514.00" x2="496.60" y2="514.00" stroke="#111" stroke-width="1.1" />
<text transform="translate(456.20,519.70) scale(1.0427,1)" x="0.12 8.66 16.82" y="0" font-size="14.90" font-weight="normal" fill="#111"  stroke="#111" stroke-width="0.2">20%</text>
<line x1="490.60" y1="556.80" x2="496.60" y2="556.80" stroke="#111" stroke-width="1.1" />
<text transform="translate(456.20,562.50) scale(1.0427,1)" x="0.12 8.66 16.82" y="0" font-size="14.90" font-weight="normal" fill="#111"  stroke="#111" stroke-width="0.2">10%</text>
<line x1="490.60" y1="599.50" x2="496.60" y2="599.50" stroke="#111" stroke-width="1.1" />
<text transform="translate(466.20,605.20) scale(0.9800,1)" x="0.17 8.46" y="0" font-size="14.90" font-weight="normal" fill="#111"  stroke="#111" stroke-width="0.2">0%</text>
<line x1="519.10" y1="540.20" x2="519.10" y2="543.00" stroke="#999" stroke-width="1.8" />
<line x1="554.55" y1="553.80" x2="554.55" y2="556.50" stroke="#7a1520" stroke-width="1.8" />
<line x1="590.00" y1="535.00" x2="590.00" y2="546.60" stroke="#6bb3d2" stroke-width="1.8" />
<line x1="625.45" y1="565.90" x2="625.45" y2="571.90" stroke="#3d64a0" stroke-width="1.8" />
<line x1="660.90" y1="445.30" x2="660.90" y2="455.80" stroke="#1d2866" stroke-width="1.8" />
<text transform="translate(504.40,527.40) scale(1.0400,1)" x="0.12 8.38 16.27" y="0" font-size="14.41" font-weight="normal" fill="#111"  stroke="#111" stroke-width="0.2">14%</text>
<text transform="translate(539.50,540.00) scale(1.0565,1)" x="0.12 8.33 16.18" y="0" font-size="14.33" font-weight="normal" fill="#111"  stroke="#111" stroke-width="0.2">10%</text>
<text transform="translate(574.60,521.80) scale(1.0781,1)" x="0.12 8.38 16.27" y="0" font-size="14.41" font-weight="normal" fill="#111"  stroke="#111" stroke-width="0.2">14%</text>
<text transform="translate(615.10,552.90) scale(0.8962,1)" x="0.19 9.17" y="0" font-size="16.14" font-weight="normal" fill="#111"  stroke="#111" stroke-width="0.2">7%</text>
<text transform="translate(644.80,432.40) scale(1.0836,1)" x="0.12 8.50 16.50" y="0" font-size="14.61" font-weight="normal" fill="#111"  stroke="#111" stroke-width="0.2">35%</text>
<path d="M554.80,545.00 L554.80,551.10 M551.90,546.45 L557.70,549.65 M551.90,549.65 L557.70,546.45" stroke="#111" stroke-width="1.25" stroke-linecap="round" fill="none"/><circle cx="554.80" cy="548.05" r="1.3" fill="#111"/>
<path d="M590.00,527.30 L590.00,532.90 M587.10,528.50 L592.90,531.70 M587.10,531.70 L592.90,528.50" stroke="#111" stroke-width="1.25" stroke-linecap="round" fill="none"/><circle cx="590.00" cy="530.10" r="1.3" fill="#111"/>
<path d="M625.60,556.80 L625.60,563.10 M622.70,558.35 L628.50,561.55 M622.70,561.55 L628.50,558.35" stroke="#111" stroke-width="1.25" stroke-linecap="round" fill="none"/><circle cx="625.60" cy="559.95" r="1.3" fill="#111"/>
<path d="M660.70,436.50 L660.70,443.40 M657.80,438.35 L663.60,441.55 M657.80,441.55 L663.60,438.35" stroke="#111" stroke-width="1.25" stroke-linecap="round" fill="none"/><circle cx="660.70" cy="439.95" r="1.3" fill="#111"/>
<text transform="translate(415.00,601.90) rotate(-90) scale(1.2260,1)" x="-0.85 7.07 11.32 18.61 25.89 33.33 38.38 42.66 45.67 52.95 53.45 63.94 71.50 72.00 79.05 86.33 93.61 100.72 106.99 114.29 121.40 127.67" y="0" font-size="13.10" font-weight="normal" fill="#111"  stroke="#111" stroke-width="0.2">Proportion of nonsense</text>
<text transform="translate(431.50,603.20) rotate(-90) scale(1.3500,1)" x="-0.16 6.48 13.23 13.73 23.66 27.30 31.37 38.11 48.27 54.66 60.46 67.36 70.46 74.14 74.64 81.39 87.45 94.28 98.62 101.31 107.94 115.11 118.60" y="0" font-size="12.28" font-weight="normal" fill="#111"  stroke="#111" stroke-width="0.2">and frameshift variants</text>
<text transform="translate(447.00,606.00) rotate(-90) scale(1.2198,1)" x="0.14 9.69 17.16 20.21 26.76 27.26 37.75 45.17 49.47 49.97 60.06 67.98 76.31 76.81 88.21 91.39 91.89 101.81 110.72 113.97 117.15 124.13 131.51 138.93" y="0" font-size="12.83" font-weight="normal" fill="#111"  stroke="#111" stroke-width="0.2">which are VUS in ClinVar</text>
<text transform="translate(484.60,658.20) rotate(-45) scale(1.0386,1)" x="-0.41 7.57 16.26 20.09 20.59 27.63 37.77 47.86" y="0" font-size="14.34" font-weight="normal" fill="#111"  stroke="#111" stroke-width="0.2">Full CDS</text>
<text transform="translate(500.20,674.80) rotate(-45) scale(1.1555,1)" x="-0.42 9.18 20.54 21.04 35.38 39.84 48.09 52.99 61.06 69.59" y="0" font-size="14.53" font-weight="normal" fill="#111"  stroke="#111" stroke-width="0.2">NMD target</text>
<text transform="translate(523.60,689.20) rotate(-45) scale(1.1816,1)" x="-0.86 8.27 12.49 20.42 25.78 26.28 34.06 42.13 46.57 54.03 61.40 64.76 76.54 84.45" y="0" font-size="14.34" font-weight="normal" fill="#111"  stroke="#111" stroke-width="0.2">Start proximal</text>
<text transform="translate(579.90,668.10) rotate(-45) scale(1.0942,1)" x="-0.41 7.00 15.12 23.40 23.90 35.71 43.76 50.81 58.94" y="0" font-size="14.53" font-weight="normal" fill="#111"  stroke="#111" stroke-width="0.2">Long exon</text>
<text transform="translate(639.70,645.60) rotate(-45) scale(1.1205,1)" x="-0.34 9.84 12.87 20.21 24.53 32.53" y="0" font-size="14.34" font-weight="normal" fill="#111"  stroke="#111" stroke-width="0.2">Distal</text>
</svg></body></html>
